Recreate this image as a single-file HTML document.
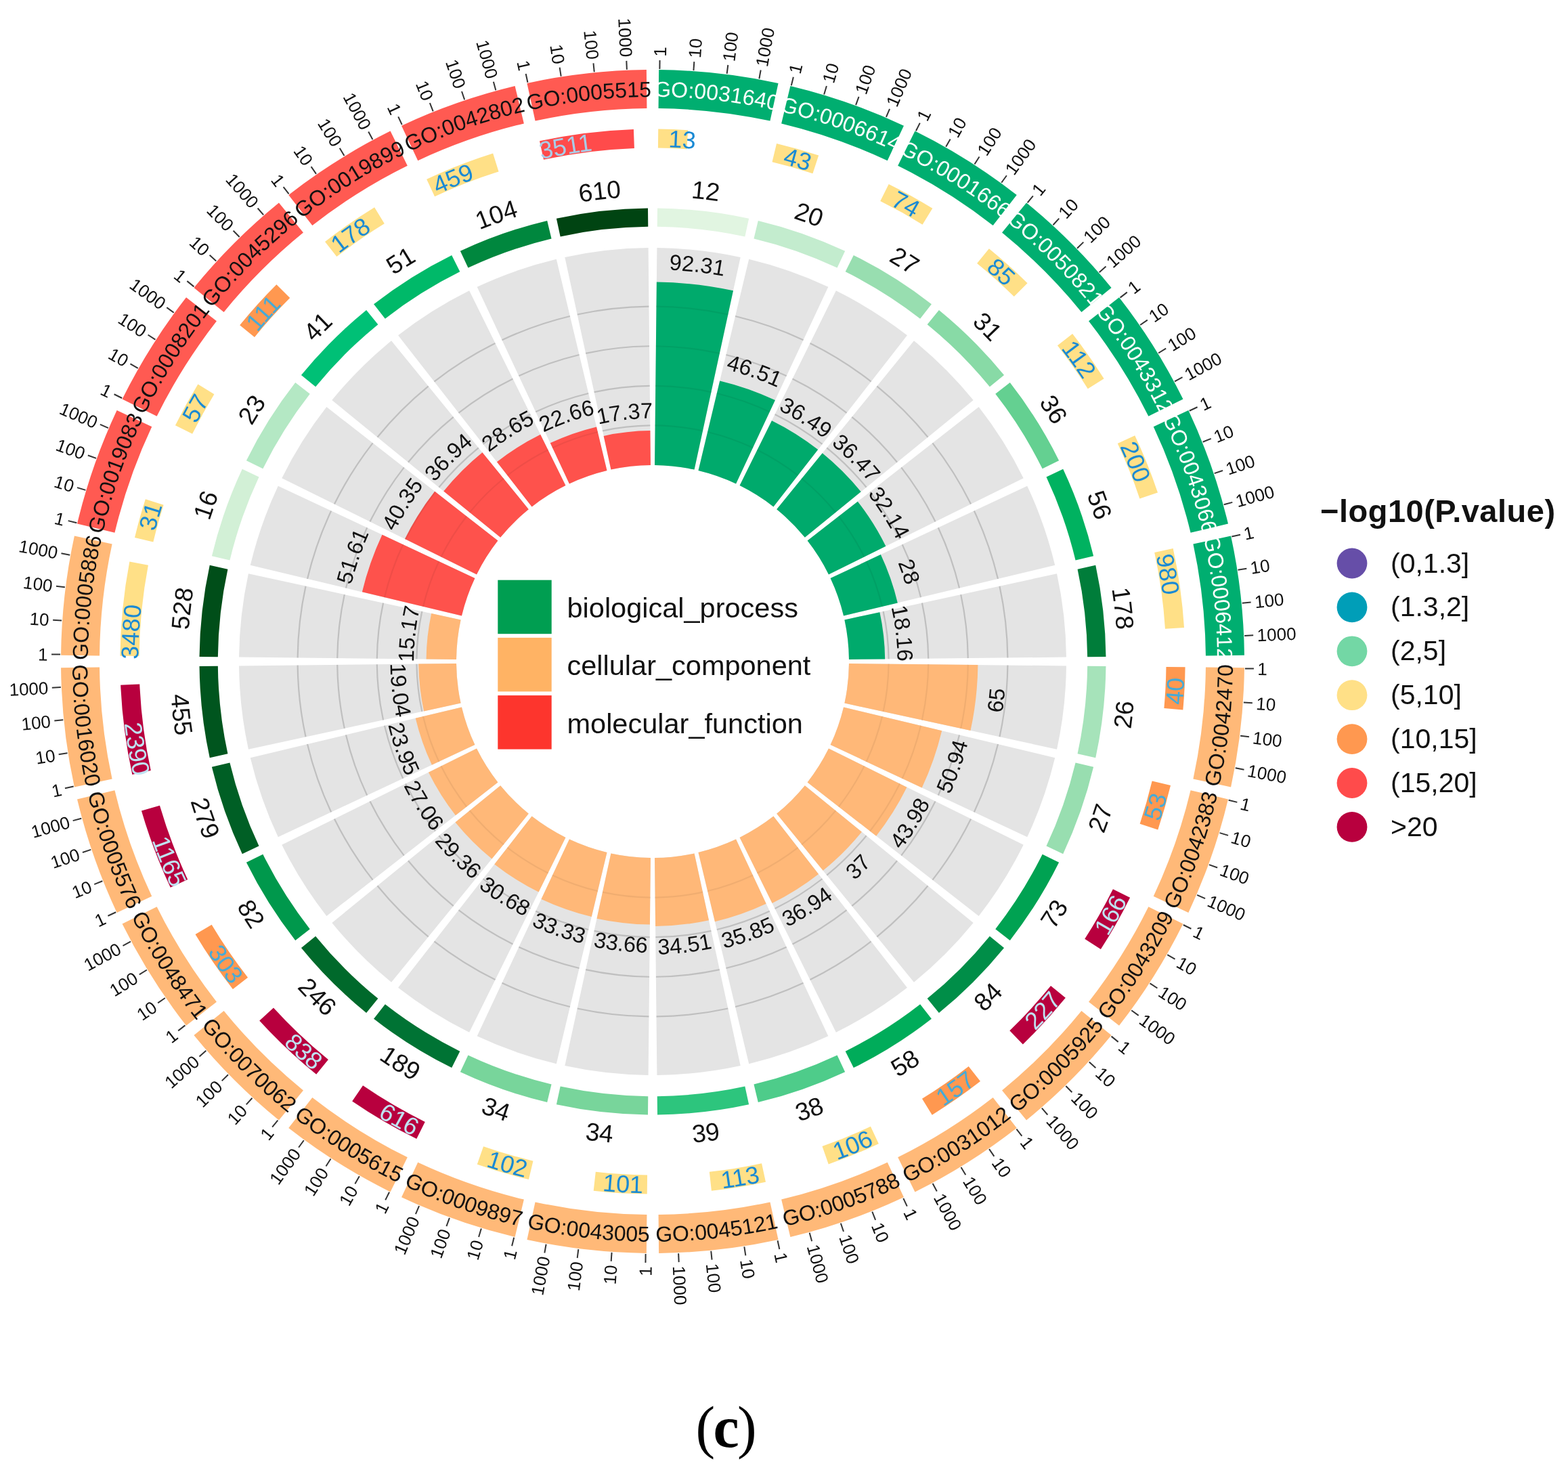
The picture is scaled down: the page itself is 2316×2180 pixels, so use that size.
<!DOCTYPE html>
<html><head><meta charset="utf-8"><title>GO circle</title>
<style>
html,body{margin:0;padding:0;background:#fff;}
body{width:2316px;height:2180px;overflow:hidden;}
svg{display:block;font-family:"Liberation Sans",Arial,sans-serif;}
.tk{stroke:#333;stroke-width:2;}
.tl{font-size:26px;fill:#111;}
.gl{fill:none;stroke:#000;stroke-opacity:0.16;stroke-width:2.2;}
.gl2{fill:none;stroke:#000;stroke-opacity:0.06;stroke-width:2.2;}
.lg{font-size:41.5px;fill:#111;}
.rt{font-size:47px;font-weight:bold;fill:#111;letter-spacing:0.5px;}
.rv{font-size:41px;fill:#111;}
.cap{font-family:"Liberation Serif",serif;font-size:86px;letter-spacing:-2.7px;fill:#000;text-anchor:middle;}
</style></head>
<body>
<svg xmlns="http://www.w3.org/2000/svg" width="2316" height="2180" viewBox="0 0 2316 2180">
<defs><path id="p1" d="M502.79 282.08A834.04 834.04 0 0 1 1568.28 402.13"/>
<path id="p2" d="M509.48 368.32A759.66 759.66 0 0 1 1484.51 423.68"/>
<path id="p3" d="M584.24 404.8A686.75 686.75 0 0 1 1461.56 503.65"/>
<path id="p4" d="M643.92 494.72A578.83 578.83 0 0 1 1383.37 578.03"/>
<path id="p5" d="M668.99 196.87A834.04 834.04 0 0 1 1681.05 551.01"/>
<path id="p6" d="M656.32 282.44A759.66 759.66 0 0 1 1594.58 553.38"/>
<path id="p7" d="M721.09 334.64A686.75 686.75 0 0 1 1554.42 626.24"/>
<path id="p8" d="M806.73 561.1A444.64 444.64 0 0 1 1346.27 749.9"/>
<path id="p9" d="M849.98 150.79A834.04 834.04 0 0 1 1757.86 721.24"/>
<path id="p10" d="M818.58 231.39A759.66 759.66 0 0 1 1673.04 704.32"/>
<path id="p11" d="M870.12 296.69A686.75 686.75 0 0 1 1617.67 766.41"/>
<path id="p12" d="M907.23 565.62A415.28 415.28 0 0 1 1359.27 849.66"/>
<path id="p13" d="M1036.69 146.13A834.04 834.04 0 0 1 1794.87 904.31"/>
<path id="p14" d="M988.15 217.72A759.66 759.66 0 0 1 1715.94 868.93"/>
<path id="p15" d="M1023.85 292.86A686.75 686.75 0 0 1 1648.14 917.15"/>
<path id="p16" d="M1000.19 563.36A415.22 415.22 0 0 1 1377.64 940.81"/>
<path id="p17" d="M1219.76 183.14A834.04 834.04 0 0 1 1790.21 1091.02"/>
<path id="p18" d="M1156.5 242.13A759.66 759.66 0 0 1 1721.13 1038.96"/>
<path id="p19" d="M1174.59 323.33A686.75 686.75 0 0 1 1644.31 1070.88"/>
<path id="p20" d="M1087.44 593.86A402.54 402.54 0 0 1 1362.76 1032.03"/>
<path id="p21" d="M1389.99 259.95A834.04 834.04 0 0 1 1744.13 1272.01"/>
<path id="p22" d="M1315.19 303.39A759.66 759.66 0 0 1 1688.36 1205.89"/>
<path id="p23" d="M1314.76 386.58A686.75 686.75 0 0 1 1606.36 1219.91"/>
<path id="p24" d="M1163.4 641.36A390.41 390.41 0 0 1 1329.17 1115.09"/>
<path id="p25" d="M1538.87 372.72A834.04 834.04 0 0 1 1658.92 1438.21"/>
<path id="p26" d="M1456.28 398.43A759.66 759.66 0 0 1 1619.27 1361.33"/>
<path id="p27" d="M1437.35 479.44A686.75 686.75 0 0 1 1536.2 1356.76"/>
<path id="p28" d="M1213.22 715.03A361.57 361.57 0 0 1 1265.26 1176.94"/>
<path id="p29" d="M1554.66 1597.88A856.96 856.96 0 0 0 1678.01 503.12"/>
<path id="p30" d="M1536.09 1515.17A785.44 785.44 0 0 0 1593.34 507.05"/>
<path id="p31" d="M1455.61 1493.76A713.25 713.25 0 0 0 1558.27 582.59"/>
<path id="p32" d="M1323.85 1355.26A522.09 522.09 0 0 0 1399 688.3"/>
<path id="p33" d="M1401.7 1713.75A856.96 856.96 0 0 0 1765.56 673.89"/>
<path id="p34" d="M1401.99 1628.98A785.44 785.44 0 0 0 1682.13 658.88"/>
<path id="p35" d="M1328.3 1590.2A713.25 713.25 0 0 0 1631.14 724.72"/>
<path id="p36" d="M1209.62 1390.43A480.89 480.89 0 0 0 1413.8 806.91"/>
<path id="p37" d="M1226.78 1792.67A856.96 856.96 0 0 0 1812.91 859.85"/>
<path id="p38" d="M1245.93 1710.09A785.44 785.44 0 0 0 1734.91 826.65"/>
<path id="p39" d="M1182.71 1655.88A713.25 713.25 0 0 0 1670.55 879.5"/>
<path id="p40" d="M1105.21 1415.31A460.5 460.5 0 0 0 1420.17 914.05"/>
<path id="p41" d="M1038.69 1830.7A856.96 856.96 0 0 0 1817.7 1051.69"/>
<path id="p42" d="M1075.74 1754.45A785.44 785.44 0 0 0 1749.04 1001.96"/>
<path id="p43" d="M1026.16 1687.53A713.25 713.25 0 0 0 1674.53 1039.16"/>
<path id="p44" d="M1002.35 1415.37A440.05 440.05 0 0 0 1402.37 1015.35"/>
<path id="p45" d="M846.85 1825.91A856.96 856.96 0 0 0 1779.67 1239.78"/>
<path id="p46" d="M899.94 1759.82A785.44 785.44 0 0 0 1723.8 1176.03"/>
<path id="p47" d="M866.5 1683.55A713.25 713.25 0 0 0 1642.88 1195.71"/>
<path id="p48" d="M903.87 1412.74A439.87 439.87 0 0 0 1382.68 1111.88"/>
<path id="p49" d="M660.89 1778.56A856.96 856.96 0 0 0 1700.75 1414.7"/>
<path id="p50" d="M727.35 1725.94A785.44 785.44 0 0 0 1660.47 1340.11"/>
<path id="p51" d="M711.72 1644.14A713.25 713.25 0 0 0 1577.2 1341.3"/>
<path id="p52" d="M809.54 1385.45A436.68 436.68 0 0 0 1339.42 1200.04"/>
<path id="p53" d="M490.12 1691.01A856.96 856.96 0 0 0 1584.88 1567.66"/>
<path id="p54" d="M566.63 1654.5A785.44 785.44 0 0 0 1562.2 1485.98"/>
<path id="p55" d="M569.59 1571.27A713.25 713.25 0 0 0 1480.76 1468.61"/>
<path id="p56" d="M724.7 1337.57A432.75 432.75 0 0 0 1277.53 1275.28"/>
<path id="p57" d="M343.12 1567.66A856.96 856.96 0 0 0 1437.88 1691.01"/>
<path id="p58" d="M425.83 1549.09A785.44 785.44 0 0 0 1433.95 1606.34"/>
<path id="p59" d="M447.24 1468.61A713.25 713.25 0 0 0 1358.41 1571.27"/>
<path id="p60" d="M652.27 1273.56A430.26 430.26 0 0 0 1201.92 1335.49"/>
<path id="p61" d="M227.25 1414.7A856.96 856.96 0 0 0 1267.11 1778.56"/>
<path id="p62" d="M312.02 1414.99A785.44 785.44 0 0 0 1282.12 1695.13"/>
<path id="p63" d="M350.8 1341.3A713.25 713.25 0 0 0 1216.28 1644.14"/>
<path id="p64" d="M594.93 1196.26A429.29 429.29 0 0 0 1115.84 1378.54"/>
<path id="p65" d="M148.33 1239.78A856.96 856.96 0 0 0 1081.15 1825.91"/>
<path id="p66" d="M230.91 1258.93A785.44 785.44 0 0 0 1114.35 1747.91"/>
<path id="p67" d="M285.12 1195.71A713.25 713.25 0 0 0 1061.5 1683.55"/>
<path id="p68" d="M562.78 1106.26A421.53 421.53 0 0 0 1021.62 1394.57"/>
<path id="p69" d="M110.3 1051.69A856.96 856.96 0 0 0 889.31 1830.7"/>
<path id="p70" d="M186.55 1088.74A785.44 785.44 0 0 0 939.04 1762.04"/>
<path id="p71" d="M253.47 1039.16A713.25 713.25 0 0 0 901.84 1687.53"/>
<path id="p72" d="M547.93 1013.4A417.66 417.66 0 0 0 927.6 1393.07"/>
<path id="p73" d="M115.09 859.85A856.96 856.96 0 0 0 701.22 1792.67"/>
<path id="p74" d="M181.18 912.94A785.44 785.44 0 0 0 764.97 1736.8"/>
<path id="p75" d="M257.45 879.5A713.25 713.25 0 0 0 745.29 1655.88"/>
<path id="p76" d="M556.94 920.83A410.92 410.92 0 0 0 837.99 1368.12"/>
<path id="p77" d="M162.44 673.89A856.96 856.96 0 0 0 526.3 1713.75"/>
<path id="p78" d="M215.06 740.35A785.44 785.44 0 0 0 600.89 1673.47"/>
<path id="p79" d="M296.86 724.72A713.25 713.25 0 0 0 599.7 1590.2"/>
<path id="p80" d="M588.17 834.88A401.81 401.81 0 0 0 758.77 1322.44"/>
<path id="p81" d="M249.99 503.12A856.96 856.96 0 0 0 373.34 1597.88"/>
<path id="p82" d="M286.5 579.63A785.44 785.44 0 0 0 455.02 1575.2"/>
<path id="p83" d="M369.73 582.59A713.25 713.25 0 0 0 472.39 1493.76"/>
<path id="p84" d="M641.2 762.76A387.42 387.42 0 0 0 696.97 1257.69"/>
<path id="p85" d="M269.08 1438.21A834.04 834.04 0 0 1 389.13 372.72"/>
<path id="p86" d="M355.32 1431.52A759.66 759.66 0 0 1 410.68 456.49"/>
<path id="p87" d="M391.8 1356.76A686.75 686.75 0 0 1 490.65 479.44"/>
<path id="p88" d="M670.04 1172.1A352.81 352.81 0 0 1 720.82 721.38"/>
<path id="p89" d="M183.87 1272.01A834.04 834.04 0 0 1 538.01 259.95"/>
<path id="p90" d="M269.44 1284.68A759.66 759.66 0 0 1 540.38 346.42"/>
<path id="p91" d="M321.64 1219.91A686.75 686.75 0 0 1 613.24 386.58"/>
<path id="p92" d="M534.13 1139.56A459.58 459.58 0 0 1 729.26 581.89"/>
<path id="p93" d="M137.79 1091.02A834.04 834.04 0 0 1 708.24 183.14"/>
<path id="p94" d="M218.39 1122.42A759.66 759.66 0 0 1 691.32 267.96"/>
<path id="p95" d="M283.69 1070.88A686.75 686.75 0 0 1 753.41 323.33"/>
<path id="p96" d="M541.41 1035.32A426.59 426.59 0 0 1 833.19 570.96"/>
<path id="p97" d="M133.13 904.31A834.04 834.04 0 0 1 891.31 146.13"/>
<path id="p98" d="M204.72 952.85A759.66 759.66 0 0 1 855.93 225.06"/>
<path id="p99" d="M279.86 917.15A686.75 686.75 0 0 1 904.15 292.86"/>
<path id="p100" d="M548.99 940.69A416.6 416.6 0 0 1 927.69 561.99"/>
<path id="p101" d="M170.14 721.24A834.04 834.04 0 0 1 1078.02 150.79"/>
<path id="p102" d="M229.13 784.5A759.66 759.66 0 0 1 1025.96 219.87"/>
<path id="p103" d="M310.33 766.41A686.75 686.75 0 0 1 1057.88 296.69"/>
<path id="p104" d="M590.59 856.7A392.31 392.31 0 0 1 1017.63 588.37"/>
<path id="p105" d="M246.95 551.01A834.04 834.04 0 0 1 1259.01 196.87"/>
<path id="p106" d="M290.39 625.81A759.66 759.66 0 0 1 1192.89 252.64"/>
<path id="p107" d="M373.58 626.24A686.75 686.75 0 0 1 1206.91 334.64"/>
<path id="p108" d="M641.81 785.59A374.76 374.76 0 0 1 1096.56 626.47"/>
<path id="p109" d="M359.72 402.13A834.04 834.04 0 0 1 1425.21 282.08"/>
<path id="p110" d="M385.43 484.72A759.66 759.66 0 0 1 1348.33 321.73"/>
<path id="p111" d="M466.44 503.65A686.75 686.75 0 0 1 1343.76 404.8"/>
<path id="p112" d="M703.71 729.38A359.26 359.26 0 0 1 1162.66 677.67"/></defs>
<rect width="100%" height="100%" fill="#fff"/>
<path d="M973.15 103.05A874 874 0 0 1 1149.55 122.92L1137.45 178.62A817 817 0 0 0 972.56 160.04Z" fill="#00ae70"/>
<line x1="974.38" y1="102.06" x2="974.54" y2="89.06" class="tk"/>
<text transform="translate(974.6 83.56) rotate(-89.32)" y="9.31" text-anchor="start" class="tl">1</text>
<line x1="1024.43" y1="104.09" x2="1025.33" y2="91.12" class="tk"/>
<text transform="translate(1025.71 85.63) rotate(-86.04)" y="9.31" text-anchor="start" class="tl">10</text>
<line x1="1073.67" y1="108.9" x2="1075.3" y2="96" class="tk"/>
<text transform="translate(1075.99 90.55) rotate(-82.8)" y="9.31" text-anchor="start" class="tl">100</text>
<line x1="1121.35" y1="116.26" x2="1123.69" y2="103.48" class="tk"/>
<text transform="translate(1124.68 98.07) rotate(-79.64)" y="9.31" text-anchor="start" class="tl">1000</text>
<text font-size="32" fill="#ffffff"><textPath href="#p1" startOffset="50%" text-anchor="middle">GO:0031640</textPath></text>
<path d="M972.24 190.44A786.6 786.6 0 0 1 1016.24 192.14L1014.38 220.17A758.5 758.5 0 0 0 971.94 218.54Z" fill="#ffe087"/>
<text font-size="36" fill="#1a8ad4"><textPath href="#p2" startOffset="50%" text-anchor="middle">13</textPath></text>
<path d="M971.01 307.54A669.5 669.5 0 0 1 1106.13 322.76L1100.34 349.44A642.2 642.2 0 0 0 970.72 334.84Z" fill="#e1f5e1"/>
<text font-size="37" fill="#111"><textPath href="#p3" startOffset="50%" text-anchor="middle">12</textPath></text>
<path d="M970.4 366.03A611 611 0 0 1 1093.71 379.93L1025.57 693.61A290 290 0 0 0 967.04 687.02Z" fill="#e4e4e4"/>
<path d="M967.65 628.42A348.6 348.6 0 0 1 1038.01 636.35" class="gl"/>
<path d="M968.26 569.82A407.2 407.2 0 0 1 1050.45 579.08" class="gl"/>
<path d="M968.88 511.23A465.8 465.8 0 0 1 1062.89 521.82" class="gl"/>
<path d="M969.49 452.63A524.4 524.4 0 0 1 1075.33 464.55" class="gl"/>
<path d="M969.87 416.56A560.47 560.47 0 0 1 1082.99 429.31L1025.57 693.61A290 290 0 0 0 967.04 687.02Z" fill="#00aa6c"/>
<path d="M967.65 628.42A348.6 348.6 0 0 1 1038.01 636.35" class="gl2"/>
<path d="M968.26 569.82A407.2 407.2 0 0 1 1050.45 579.08" class="gl2"/>
<path d="M968.88 511.23A465.8 465.8 0 0 1 1062.89 521.82" class="gl2"/>
<path d="M969.49 452.63A524.4 524.4 0 0 1 1075.33 464.55" class="gl2"/>
<text font-size="32.5" fill="#111"><textPath href="#p4" startOffset="50%" text-anchor="middle">92.31</textPath></text>
<path d="M1167.4 127A874 874 0 0 1 1334.95 185.63L1310.76 237.24A817 817 0 0 0 1154.13 182.43Z" fill="#00ae70"/>
<line x1="1168.82" y1="126.31" x2="1171.86" y2="113.67" class="tk"/>
<text transform="translate(1173.15 108.32) rotate(-76.46)" y="9.31" text-anchor="start" class="tl">1</text>
<line x1="1217.15" y1="139.42" x2="1220.91" y2="126.98" class="tk"/>
<text transform="translate(1222.51 121.71) rotate(-73.18)" y="9.31" text-anchor="start" class="tl">10</text>
<line x1="1264.09" y1="155.07" x2="1268.55" y2="142.86" class="tk"/>
<text transform="translate(1270.43 137.69) rotate(-69.94)" y="9.31" text-anchor="start" class="tl">100</text>
<line x1="1308.94" y1="172.86" x2="1314.06" y2="160.91" class="tk"/>
<text transform="translate(1316.23 155.86) rotate(-66.78)" y="9.31" text-anchor="start" class="tl">1000</text>
<text font-size="32" fill="#ffffff"><textPath href="#p5" startOffset="50%" text-anchor="middle">GO:0006614</textPath></text>
<path d="M1147.06 212A786.6 786.6 0 0 1 1209.18 229.59L1200.42 256.29A758.5 758.5 0 0 0 1140.52 239.33Z" fill="#ffe087"/>
<text font-size="36" fill="#1a8ad4"><textPath href="#p6" startOffset="50%" text-anchor="middle">43</textPath></text>
<path d="M1119.8 325.88A669.5 669.5 0 0 1 1248.15 370.79L1236.57 395.51A642.2 642.2 0 0 0 1113.45 352.43Z" fill="#c3ecce"/>
<text font-size="37" fill="#111"><textPath href="#p7" startOffset="50%" text-anchor="middle">20</textPath></text>
<path d="M1106.19 382.78A611 611 0 0 1 1223.32 423.76L1087.08 714.42A290 290 0 0 0 1031.49 694.96Z" fill="#e4e4e4"/>
<path d="M1045.13 637.97A348.6 348.6 0 0 1 1111.95 661.36" class="gl"/>
<path d="M1058.76 580.98A407.2 407.2 0 0 1 1136.83 608.3" class="gl"/>
<path d="M1072.4 523.99A465.8 465.8 0 0 1 1161.7 555.24" class="gl"/>
<path d="M1086.04 467A524.4 524.4 0 0 1 1186.57 502.18" class="gl"/>
<path d="M1063.2 562.43A426.27 426.27 0 0 1 1144.92 591.02L1087.08 714.42A290 290 0 0 0 1031.49 694.96Z" fill="#00aa6c"/>
<path d="M1045.13 637.97A348.6 348.6 0 0 1 1111.95 661.36" class="gl2"/>
<path d="M1058.76 580.98A407.2 407.2 0 0 1 1136.83 608.3" class="gl2"/>
<text font-size="32.5" fill="#111"><textPath href="#p8" startOffset="50%" text-anchor="middle">46.51</textPath></text>
<path d="M1351.44 193.57A874 874 0 0 1 1501.74 288.01L1466.67 332.94A817 817 0 0 0 1326.17 244.66Z" fill="#00ae70"/>
<line x1="1352.98" y1="193.21" x2="1358.76" y2="181.57" class="tk"/>
<text transform="translate(1361.2 176.64) rotate(-63.61)" y="9.31" text-anchor="start" class="tl">1</text>
<line x1="1397.19" y1="216.75" x2="1403.62" y2="205.46" class="tk"/>
<text transform="translate(1406.34 200.68) rotate(-60.33)" y="9.31" text-anchor="start" class="tl">10</text>
<line x1="1439.46" y1="242.45" x2="1446.52" y2="231.54" class="tk"/>
<text transform="translate(1449.51 226.92) rotate(-57.09)" y="9.31" text-anchor="start" class="tl">100</text>
<line x1="1479.23" y1="269.78" x2="1486.88" y2="259.27" class="tk"/>
<text transform="translate(1490.12 254.82) rotate(-53.93)" y="9.31" text-anchor="start" class="tl">1000</text>
<text font-size="32" fill="#ffffff"><textPath href="#p9" startOffset="50%" text-anchor="middle">GO:0001666</textPath></text>
<path d="M1312.7 271.91A786.6 786.6 0 0 1 1377.31 307.74L1362.54 331.64A758.5 758.5 0 0 0 1300.24 297.1Z" fill="#ffe087"/>
<text font-size="36" fill="#1a8ad4"><textPath href="#p10" startOffset="50%" text-anchor="middle">74</textPath></text>
<path d="M1260.79 376.88A669.5 669.5 0 0 1 1375.92 449.22L1359.13 470.74A642.2 642.2 0 0 0 1248.68 401.35Z" fill="#98deb0"/>
<text font-size="37" fill="#111"><textPath href="#p11" startOffset="50%" text-anchor="middle">27</textPath></text>
<path d="M1234.85 429.31A611 611 0 0 1 1339.93 495.34L1142.43 748.39A290 290 0 0 0 1092.56 717.05Z" fill="#e4e4e4"/>
<path d="M1118.53 664.52A348.6 348.6 0 0 1 1178.48 702.19" class="gl"/>
<path d="M1144.51 612A407.2 407.2 0 0 1 1214.54 656" class="gl"/>
<path d="M1170.49 559.47A465.8 465.8 0 0 1 1250.59 609.8" class="gl"/>
<path d="M1196.46 506.94A524.4 524.4 0 0 1 1286.65 563.61" class="gl"/>
<path d="M1139.95 621.21A396.92 396.92 0 0 1 1208.21 664.1L1142.43 748.39A290 290 0 0 0 1092.56 717.05Z" fill="#00aa6c"/>
<path d="M1118.53 664.52A348.6 348.6 0 0 1 1178.48 702.19" class="gl2"/>
<text font-size="32.5" fill="#111"><textPath href="#p12" startOffset="50%" text-anchor="middle">36.49</textPath></text>
<path d="M1516.06 299.42A874 874 0 0 1 1641.58 424.94L1597.39 460.95A817 817 0 0 0 1480.05 343.61Z" fill="#00ae70"/>
<line x1="1517.63" y1="299.42" x2="1525.86" y2="289.35" class="tk"/>
<text transform="translate(1529.34 285.09) rotate(-50.75)" y="9.31" text-anchor="start" class="tl">1</text>
<line x1="1555.5" y1="332.21" x2="1564.28" y2="322.63" class="tk"/>
<text transform="translate(1568 318.57) rotate(-47.47)" y="9.31" text-anchor="start" class="tl">10</text>
<line x1="1590.99" y1="366.67" x2="1600.31" y2="357.6" class="tk"/>
<text transform="translate(1604.25 353.76) rotate(-44.23)" y="9.31" text-anchor="start" class="tl">100</text>
<line x1="1623.68" y1="402.16" x2="1633.48" y2="393.62" class="tk"/>
<text transform="translate(1637.63 390) rotate(-41.07)" y="9.31" text-anchor="start" class="tl">1000</text>
<text font-size="32" fill="#ffffff"><textPath href="#p13" startOffset="50%" text-anchor="middle">GO:0050821</textPath></text>
<path d="M1460.85 367.18A786.6 786.6 0 0 1 1517.56 418.16L1497.79 438.12A758.5 758.5 0 0 0 1443.1 388.97Z" fill="#ffe087"/>
<text font-size="36" fill="#1a8ad4"><textPath href="#p14" startOffset="50%" text-anchor="middle">85</textPath></text>
<path d="M1386.88 457.96A669.5 669.5 0 0 1 1483.04 554.12L1461.87 571.36A642.2 642.2 0 0 0 1369.64 479.13Z" fill="#88daa6"/>
<text font-size="37" fill="#111"><textPath href="#p15" startOffset="50%" text-anchor="middle">31</textPath></text>
<path d="M1349.93 503.32A611 611 0 0 1 1437.68 591.07L1188.83 793.82A290 290 0 0 0 1147.18 752.17Z" fill="#e4e4e4"/>
<path d="M1184.19 706.74A348.6 348.6 0 0 1 1234.26 756.81" class="gl"/>
<path d="M1221.2 661.31A407.2 407.2 0 0 1 1279.69 719.8" class="gl"/>
<path d="M1258.22 615.88A465.8 465.8 0 0 1 1325.12 682.78" class="gl"/>
<path d="M1295.23 570.45A524.4 524.4 0 0 1 1370.55 645.77" class="gl"/>
<path d="M1214.67 669.33A396.86 396.86 0 0 1 1271.67 726.33L1188.83 793.82A290 290 0 0 0 1147.18 752.17Z" fill="#00aa6c"/>
<path d="M1184.19 706.74A348.6 348.6 0 0 1 1234.26 756.81" class="gl2"/>
<text font-size="32.5" fill="#111"><textPath href="#p16" startOffset="50%" text-anchor="middle">36.47</textPath></text>
<path d="M1652.99 439.26A874 874 0 0 1 1747.43 589.56L1696.34 614.83A817 817 0 0 0 1608.06 474.33Z" fill="#00ae70"/>
<line x1="1654.53" y1="439.6" x2="1664.79" y2="431.62" class="tk"/>
<text transform="translate(1669.13 428.24) rotate(-37.89)" y="9.31" text-anchor="start" class="tl">1</text>
<line x1="1684.15" y1="479.99" x2="1694.84" y2="472.61" class="tk"/>
<text transform="translate(1699.37 469.48) rotate(-34.61)" y="9.31" text-anchor="start" class="tl">10</text>
<line x1="1711.08" y1="521.49" x2="1722.18" y2="514.72" class="tk"/>
<text transform="translate(1726.88 511.86) rotate(-31.37)" y="9.31" text-anchor="start" class="tl">100</text>
<line x1="1735.06" y1="563.36" x2="1746.51" y2="557.22" class="tk"/>
<text transform="translate(1751.36 554.62) rotate(-28.21)" y="9.31" text-anchor="start" class="tl">1000</text>
<text font-size="32" fill="#ffffff"><textPath href="#p17" startOffset="50%" text-anchor="middle">GO:0043312</textPath></text>
<path d="M1584.09 493.03A786.6 786.6 0 0 1 1630.57 559.35L1606.76 574.27A758.5 758.5 0 0 0 1561.94 510.32Z" fill="#ffe087"/>
<text font-size="36" fill="#1a8ad4"><textPath href="#p18" startOffset="50%" text-anchor="middle">112</textPath></text>
<path d="M1491.78 565.08A669.5 669.5 0 0 1 1564.12 680.21L1539.65 692.32A642.2 642.2 0 0 0 1470.26 581.87Z" fill="#64d091"/>
<text font-size="37" fill="#111"><textPath href="#p19" startOffset="50%" text-anchor="middle">36</textPath></text>
<path d="M1445.66 601.07A611 611 0 0 1 1511.69 706.15L1223.95 848.44A290 290 0 0 0 1192.61 798.57Z" fill="#e4e4e4"/>
<path d="M1238.81 762.52A348.6 348.6 0 0 1 1276.48 822.47" class="gl"/>
<path d="M1285 726.46A407.2 407.2 0 0 1 1329 796.49" class="gl"/>
<path d="M1331.2 690.41A465.8 465.8 0 0 1 1381.53 770.51" class="gl"/>
<path d="M1377.39 654.35A524.4 524.4 0 0 1 1434.06 744.54" class="gl"/>
<path d="M1266.85 740.63A384.17 384.17 0 0 1 1308.36 806.7L1223.95 848.44A290 290 0 0 0 1192.61 798.57Z" fill="#00aa6c"/>
<path d="M1238.81 762.52A348.6 348.6 0 0 1 1276.48 822.47" class="gl2"/>
<text font-size="32.5" fill="#111"><textPath href="#p20" startOffset="50%" text-anchor="middle">32.14</textPath></text>
<path d="M1755.37 606.05A874 874 0 0 1 1814 773.6L1758.57 786.87A817 817 0 0 0 1703.76 630.24Z" fill="#00ae70"/>
<line x1="1756.8" y1="606.73" x2="1768.58" y2="601.23" class="tk"/>
<text transform="translate(1773.56 598.91) rotate(-25.03)" y="9.31" text-anchor="start" class="tl">1</text>
<line x1="1776.68" y1="652.7" x2="1788.76" y2="647.88" class="tk"/>
<text transform="translate(1793.87 645.84) rotate(-21.75)" y="9.31" text-anchor="start" class="tl">10</text>
<line x1="1793.71" y1="699.15" x2="1806.04" y2="695.02" class="tk"/>
<text transform="translate(1811.26 693.28) rotate(-18.51)" y="9.31" text-anchor="start" class="tl">100</text>
<line x1="1807.77" y1="745.31" x2="1820.3" y2="741.87" class="tk"/>
<text transform="translate(1825.61 740.41) rotate(-15.35)" y="9.31" text-anchor="start" class="tl">1000</text>
<text font-size="32" fill="#ffffff"><textPath href="#p21" startOffset="50%" text-anchor="middle">GO:0043066</textPath></text>
<path d="M1676.24 643.15A786.6 786.6 0 0 1 1710.01 727.57L1683.36 736.48A758.5 758.5 0 0 0 1650.79 655.07Z" fill="#ffe087"/>
<text font-size="36" fill="#1a8ad4"><textPath href="#p22" startOffset="50%" text-anchor="middle">200</textPath></text>
<path d="M1570.21 692.85A669.5 669.5 0 0 1 1615.12 821.2L1588.57 827.55A642.2 642.2 0 0 0 1545.49 704.43Z" fill="#00b260"/>
<text font-size="37" fill="#111"><textPath href="#p23" startOffset="50%" text-anchor="middle">56</textPath></text>
<path d="M1517.24 717.68A611 611 0 0 1 1558.22 834.81L1246.04 909.51A290 290 0 0 0 1226.58 853.92Z" fill="#e4e4e4"/>
<path d="M1279.64 829.05A348.6 348.6 0 0 1 1303.03 895.87" class="gl"/>
<path d="M1332.7 804.17A407.2 407.2 0 0 1 1360.02 882.24" class="gl"/>
<path d="M1385.76 779.3A465.8 465.8 0 0 1 1417.01 868.6" class="gl"/>
<path d="M1438.82 754.43A524.4 524.4 0 0 1 1474 854.96" class="gl"/>
<path d="M1300.87 819.1A372.04 372.04 0 0 1 1325.83 890.42L1246.04 909.51A290 290 0 0 0 1226.58 853.92Z" fill="#00aa6c"/>
<path d="M1279.64 829.05A348.6 348.6 0 0 1 1303.03 895.87" class="gl2"/>
<text font-size="32.5" fill="#111"><textPath href="#p24" startOffset="50%" text-anchor="middle">28</textPath></text>
<path d="M1818.08 791.45A874 874 0 0 1 1837.95 967.85L1780.96 968.44A817 817 0 0 0 1762.38 803.55Z" fill="#00ae70"/>
<line x1="1819.31" y1="792.43" x2="1832.02" y2="789.69" class="tk"/>
<text transform="translate(1837.4 788.53) rotate(-12.18)" y="9.31" text-anchor="start" class="tl">1</text>
<line x1="1828.47" y1="841.67" x2="1841.32" y2="839.66" class="tk"/>
<text transform="translate(1846.75 838.81) rotate(-8.9)" y="9.31" text-anchor="start" class="tl">10</text>
<line x1="1834.74" y1="890.75" x2="1847.68" y2="889.47" class="tk"/>
<text transform="translate(1853.15 888.92) rotate(-5.66)" y="9.31" text-anchor="start" class="tl">100</text>
<line x1="1838.17" y1="938.88" x2="1851.16" y2="938.31" class="tk"/>
<text transform="translate(1856.65 938.07) rotate(-2.5)" y="9.31" text-anchor="start" class="tl">1000</text>
<text font-size="32" fill="#ffffff"><textPath href="#p25" startOffset="50%" text-anchor="middle">GO:0006412</textPath></text>
<path d="M1732.67 810.01A786.6 786.6 0 0 1 1749.01 927.03L1720.97 928.81A758.5 758.5 0 0 0 1705.21 815.97Z" fill="#ffe087"/>
<text font-size="36" fill="#1a8ad4"><textPath href="#p26" startOffset="50%" text-anchor="middle">980</textPath></text>
<path d="M1618.24 834.87A669.5 669.5 0 0 1 1633.46 969.99L1606.16 970.28A642.2 642.2 0 0 0 1591.56 840.66Z" fill="#007d3a"/>
<text font-size="37" fill="#111"><textPath href="#p27" startOffset="50%" text-anchor="middle">178</textPath></text>
<path d="M1561.07 847.29A611 611 0 0 1 1574.97 970.6L1253.98 973.96A290 290 0 0 0 1247.39 915.43Z" fill="#e4e4e4"/>
<path d="M1304.65 902.99A348.6 348.6 0 0 1 1312.58 973.35" class="gl"/>
<path d="M1361.92 890.55A407.2 407.2 0 0 1 1371.18 972.74" class="gl"/>
<path d="M1419.18 878.11A465.8 465.8 0 0 1 1429.77 972.12" class="gl"/>
<path d="M1476.45 865.67A524.4 524.4 0 0 1 1488.37 971.51" class="gl"/>
<path d="M1299.39 904.14A343.21 343.21 0 0 1 1307.19 973.41L1253.98 973.96A290 290 0 0 0 1247.39 915.43Z" fill="#00aa6c"/>
<text font-size="32.5" fill="#111"><textPath href="#p28" startOffset="50%" text-anchor="middle">18.16</textPath></text>
<path d="M1837.95 986.15A874 874 0 0 1 1818.08 1162.55L1762.38 1150.45A817 817 0 0 0 1780.96 985.56Z" fill="#ffb978"/>
<line x1="1838.94" y1="987.38" x2="1851.94" y2="987.54" class="tk"/>
<text transform="translate(1857.44 987.6) rotate(0.68)" y="9.31" text-anchor="start" class="tl">1</text>
<line x1="1836.91" y1="1037.43" x2="1849.88" y2="1038.33" class="tk"/>
<text transform="translate(1855.37 1038.71) rotate(3.96)" y="9.31" text-anchor="start" class="tl">10</text>
<line x1="1832.1" y1="1086.67" x2="1845" y2="1088.3" class="tk"/>
<text transform="translate(1850.45 1088.99) rotate(7.2)" y="9.31" text-anchor="start" class="tl">100</text>
<line x1="1824.74" y1="1134.35" x2="1837.52" y2="1136.69" class="tk"/>
<text transform="translate(1842.93 1137.68) rotate(10.36)" y="9.31" text-anchor="start" class="tl">1000</text>
<text font-size="32" fill="#111111"><textPath href="#p29" startOffset="50%" text-anchor="middle">GO:0042470</textPath></text>
<path d="M1750.56 985.24A786.6 786.6 0 0 1 1747.35 1048.48L1719.36 1045.93A758.5 758.5 0 0 0 1722.46 984.94Z" fill="#ff9850"/>
<text font-size="36" fill="#46aad7"><textPath href="#p30" startOffset="50%" text-anchor="middle">40</textPath></text>
<path d="M1633.46 984.01A669.5 669.5 0 0 1 1618.24 1119.13L1591.56 1113.34A642.2 642.2 0 0 0 1606.16 983.72Z" fill="#a6e3ba"/>
<text font-size="37" fill="#111"><textPath href="#p31" startOffset="50%" text-anchor="middle">26</textPath></text>
<path d="M1574.97 983.4A611 611 0 0 1 1561.07 1106.71L1247.39 1038.57A290 290 0 0 0 1253.98 980.04Z" fill="#e4e4e4"/>
<path d="M1312.58 980.65A348.6 348.6 0 0 1 1304.65 1051.01" class="gl"/>
<path d="M1371.18 981.26A407.2 407.2 0 0 1 1361.92 1063.45" class="gl"/>
<path d="M1429.77 981.88A465.8 465.8 0 0 1 1419.18 1075.89" class="gl"/>
<path d="M1488.37 982.49A524.4 524.4 0 0 1 1476.45 1088.33" class="gl"/>
<path d="M1444.42 982.03A480.45 480.45 0 0 1 1433.5 1079L1247.39 1038.57A290 290 0 0 0 1253.98 980.04Z" fill="#ffb878"/>
<path d="M1312.58 980.65A348.6 348.6 0 0 1 1304.65 1051.01" class="gl2"/>
<path d="M1371.18 981.26A407.2 407.2 0 0 1 1361.92 1063.45" class="gl2"/>
<path d="M1429.77 981.88A465.8 465.8 0 0 1 1419.18 1075.89" class="gl2"/>
<text font-size="32.5" fill="#111"><textPath href="#p32" startOffset="50%" text-anchor="middle">65</textPath></text>
<path d="M1814 1180.4A874 874 0 0 1 1755.37 1347.95L1703.76 1323.76A817 817 0 0 0 1758.57 1167.13Z" fill="#ffb978"/>
<line x1="1814.69" y1="1181.82" x2="1827.33" y2="1184.86" class="tk"/>
<text transform="translate(1832.68 1186.15) rotate(13.54)" y="9.31" text-anchor="start" class="tl">1</text>
<line x1="1801.58" y1="1230.15" x2="1814.02" y2="1233.91" class="tk"/>
<text transform="translate(1819.29 1235.51) rotate(16.82)" y="9.31" text-anchor="start" class="tl">10</text>
<line x1="1785.93" y1="1277.09" x2="1798.14" y2="1281.55" class="tk"/>
<text transform="translate(1803.31 1283.43) rotate(20.06)" y="9.31" text-anchor="start" class="tl">100</text>
<line x1="1768.14" y1="1321.94" x2="1780.09" y2="1327.06" class="tk"/>
<text transform="translate(1785.14 1329.23) rotate(23.22)" y="9.31" text-anchor="start" class="tl">1000</text>
<text font-size="32" fill="#111111"><textPath href="#p33" startOffset="50%" text-anchor="middle">GO:0042383</textPath></text>
<path d="M1729 1160.06A786.6 786.6 0 0 1 1710.29 1225.59L1683.63 1216.71A758.5 758.5 0 0 0 1701.67 1153.52Z" fill="#ff9850"/>
<text font-size="36" fill="#46aad7"><textPath href="#p34" startOffset="50%" text-anchor="middle">53</textPath></text>
<path d="M1615.12 1132.8A669.5 669.5 0 0 1 1570.21 1261.15L1545.49 1249.57A642.2 642.2 0 0 0 1588.57 1126.45Z" fill="#98deb0"/>
<text font-size="37" fill="#111"><textPath href="#p35" startOffset="50%" text-anchor="middle">27</textPath></text>
<path d="M1558.22 1119.19A611 611 0 0 1 1517.24 1236.32L1226.58 1100.08A290 290 0 0 0 1246.04 1044.49Z" fill="#e4e4e4"/>
<path d="M1303.03 1058.13A348.6 348.6 0 0 1 1279.64 1124.95" class="gl"/>
<path d="M1360.02 1071.76A407.2 407.2 0 0 1 1332.7 1149.83" class="gl"/>
<path d="M1417.01 1085.4A465.8 465.8 0 0 1 1385.76 1174.7" class="gl"/>
<path d="M1474 1099.04A524.4 524.4 0 0 1 1438.82 1199.57" class="gl"/>
<path d="M1391.19 1079.22A439.25 439.25 0 0 1 1361.73 1163.43L1226.58 1100.08A290 290 0 0 0 1246.04 1044.49Z" fill="#ffb878"/>
<path d="M1303.03 1058.13A348.6 348.6 0 0 1 1279.64 1124.95" class="gl2"/>
<path d="M1360.02 1071.76A407.2 407.2 0 0 1 1332.7 1149.83" class="gl2"/>
<text font-size="32.5" fill="#111"><textPath href="#p36" startOffset="50%" text-anchor="middle">50.94</textPath></text>
<path d="M1747.43 1364.44A874 874 0 0 1 1652.99 1514.74L1608.06 1479.67A817 817 0 0 0 1696.34 1339.17Z" fill="#ffb978"/>
<line x1="1747.79" y1="1365.98" x2="1759.43" y2="1371.76" class="tk"/>
<text transform="translate(1764.36 1374.2) rotate(26.39)" y="9.31" text-anchor="start" class="tl">1</text>
<line x1="1724.25" y1="1410.19" x2="1735.54" y2="1416.62" class="tk"/>
<text transform="translate(1740.32 1419.34) rotate(29.67)" y="9.31" text-anchor="start" class="tl">10</text>
<line x1="1698.55" y1="1452.46" x2="1709.46" y2="1459.52" class="tk"/>
<text transform="translate(1714.08 1462.51) rotate(32.91)" y="9.31" text-anchor="start" class="tl">100</text>
<line x1="1671.22" y1="1492.23" x2="1681.73" y2="1499.88" class="tk"/>
<text transform="translate(1686.18 1503.12) rotate(36.07)" y="9.31" text-anchor="start" class="tl">1000</text>
<text font-size="32" fill="#111111"><textPath href="#p37" startOffset="50%" text-anchor="middle">GO:0043209</textPath></text>
<path d="M1669.09 1325.7A786.6 786.6 0 0 1 1625.87 1402.05L1602.23 1386.86A758.5 758.5 0 0 0 1643.9 1313.24Z" fill="#b8003e"/>
<text font-size="36" fill="#bfe3f2"><textPath href="#p38" startOffset="50%" text-anchor="middle">166</textPath></text>
<path d="M1564.12 1273.79A669.5 669.5 0 0 1 1491.78 1388.92L1470.26 1372.13A642.2 642.2 0 0 0 1539.65 1261.68Z" fill="#00a252"/>
<text font-size="37" fill="#111"><textPath href="#p39" startOffset="50%" text-anchor="middle">73</textPath></text>
<path d="M1511.69 1247.85A611 611 0 0 1 1445.66 1352.93L1192.61 1155.43A290 290 0 0 0 1223.95 1105.56Z" fill="#e4e4e4"/>
<path d="M1276.48 1131.53A348.6 348.6 0 0 1 1238.81 1191.48" class="gl"/>
<path d="M1329 1157.51A407.2 407.2 0 0 1 1285 1227.54" class="gl"/>
<path d="M1381.53 1183.49A465.8 465.8 0 0 1 1331.2 1263.59" class="gl"/>
<path d="M1434.06 1209.46A524.4 524.4 0 0 1 1377.39 1299.65" class="gl"/>
<path d="M1339.46 1162.68A418.86 418.86 0 0 1 1294.2 1234.71L1192.61 1155.43A290 290 0 0 0 1223.95 1105.56Z" fill="#ffb878"/>
<path d="M1276.48 1131.53A348.6 348.6 0 0 1 1238.81 1191.48" class="gl2"/>
<path d="M1329 1157.51A407.2 407.2 0 0 1 1285 1227.54" class="gl2"/>
<text font-size="32.5" fill="#111"><textPath href="#p40" startOffset="50%" text-anchor="middle">43.98</textPath></text>
<path d="M1641.58 1529.06A874 874 0 0 1 1516.06 1654.58L1480.05 1610.39A817 817 0 0 0 1597.39 1493.05Z" fill="#ffb978"/>
<line x1="1641.58" y1="1530.63" x2="1651.65" y2="1538.86" class="tk"/>
<text transform="translate(1655.91 1542.34) rotate(39.25)" y="9.31" text-anchor="start" class="tl">1</text>
<line x1="1608.79" y1="1568.5" x2="1618.37" y2="1577.28" class="tk"/>
<text transform="translate(1622.43 1581) rotate(42.53)" y="9.31" text-anchor="start" class="tl">10</text>
<line x1="1574.33" y1="1603.99" x2="1583.4" y2="1613.31" class="tk"/>
<text transform="translate(1587.24 1617.25) rotate(45.77)" y="9.31" text-anchor="start" class="tl">100</text>
<line x1="1538.84" y1="1636.68" x2="1547.38" y2="1646.48" class="tk"/>
<text transform="translate(1551 1650.63) rotate(48.93)" y="9.31" text-anchor="start" class="tl">1000</text>
<text font-size="32" fill="#111111"><textPath href="#p41" startOffset="50%" text-anchor="middle">GO:0005925</textPath></text>
<path d="M1573.82 1473.85A786.6 786.6 0 0 1 1510.84 1542.42L1491.31 1522.22A758.5 758.5 0 0 0 1552.03 1456.1Z" fill="#b8003e"/>
<text font-size="36" fill="#bfe3f2"><textPath href="#p42" startOffset="50%" text-anchor="middle">227</textPath></text>
<path d="M1483.04 1399.88A669.5 669.5 0 0 1 1386.88 1496.04L1369.64 1474.87A642.2 642.2 0 0 0 1461.87 1382.64Z" fill="#008e48"/>
<text font-size="37" fill="#111"><textPath href="#p43" startOffset="50%" text-anchor="middle">84</textPath></text>
<path d="M1437.68 1362.93A611 611 0 0 1 1349.93 1450.68L1147.18 1201.83A290 290 0 0 0 1188.83 1160.18Z" fill="#e4e4e4"/>
<path d="M1234.26 1197.19A348.6 348.6 0 0 1 1184.19 1247.26" class="gl"/>
<path d="M1279.69 1234.2A407.2 407.2 0 0 1 1221.2 1292.69" class="gl"/>
<path d="M1325.12 1271.22A465.8 465.8 0 0 1 1258.22 1338.12" class="gl"/>
<path d="M1370.55 1308.23A524.4 524.4 0 0 1 1295.23 1383.55" class="gl"/>
<path d="M1272.87 1228.65A398.41 398.41 0 0 1 1215.65 1285.87L1147.18 1201.83A290 290 0 0 0 1188.83 1160.18Z" fill="#ffb878"/>
<path d="M1234.26 1197.19A348.6 348.6 0 0 1 1184.19 1247.26" class="gl2"/>
<text font-size="32.5" fill="#111"><textPath href="#p44" startOffset="50%" text-anchor="middle">37</textPath></text>
<path d="M1501.74 1665.99A874 874 0 0 1 1351.44 1760.43L1326.17 1709.34A817 817 0 0 0 1466.67 1621.06Z" fill="#ffb978"/>
<line x1="1501.4" y1="1667.53" x2="1509.38" y2="1677.79" class="tk"/>
<text transform="translate(1512.76 1682.13) rotate(52.11)" y="9.31" text-anchor="start" class="tl">1</text>
<line x1="1461.01" y1="1697.15" x2="1468.39" y2="1707.84" class="tk"/>
<text transform="translate(1471.52 1712.37) rotate(55.39)" y="9.31" text-anchor="start" class="tl">10</text>
<line x1="1419.51" y1="1724.08" x2="1426.28" y2="1735.18" class="tk"/>
<text transform="translate(1429.14 1739.88) rotate(58.63)" y="9.31" text-anchor="start" class="tl">100</text>
<line x1="1377.64" y1="1748.06" x2="1383.78" y2="1759.51" class="tk"/>
<text transform="translate(1386.38 1764.36) rotate(61.79)" y="9.31" text-anchor="start" class="tl">1000</text>
<text font-size="32" fill="#111111"><textPath href="#p45" startOffset="50%" text-anchor="middle">GO:0031012</textPath></text>
<path d="M1447.97 1597.09A786.6 786.6 0 0 1 1376.72 1646.63L1361.98 1622.71A758.5 758.5 0 0 0 1430.68 1574.94Z" fill="#ff9850"/>
<text font-size="36" fill="#46aad7"><textPath href="#p46" startOffset="50%" text-anchor="middle">157</textPath></text>
<path d="M1375.92 1504.78A669.5 669.5 0 0 1 1260.79 1577.12L1248.68 1552.65A642.2 642.2 0 0 0 1359.13 1483.26Z" fill="#00ac5a"/>
<text font-size="37" fill="#111"><textPath href="#p47" startOffset="50%" text-anchor="middle">58</textPath></text>
<path d="M1339.93 1458.66A611 611 0 0 1 1234.85 1524.69L1092.56 1236.95A290 290 0 0 0 1142.43 1205.61Z" fill="#e4e4e4"/>
<path d="M1178.48 1251.81A348.6 348.6 0 0 1 1118.53 1289.48" class="gl"/>
<path d="M1214.54 1298A407.2 407.2 0 0 1 1144.51 1342" class="gl"/>
<path d="M1250.59 1344.2A465.8 465.8 0 0 1 1170.49 1394.53" class="gl"/>
<path d="M1286.65 1390.39A524.4 524.4 0 0 1 1196.46 1447.06" class="gl"/>
<path d="M1209.02 1290.94A398.23 398.23 0 0 1 1140.54 1333.97L1092.56 1236.95A290 290 0 0 0 1142.43 1205.61Z" fill="#ffb878"/>
<path d="M1178.48 1251.81A348.6 348.6 0 0 1 1118.53 1289.48" class="gl2"/>
<text font-size="32.5" fill="#111"><textPath href="#p48" startOffset="50%" text-anchor="middle">36.94</textPath></text>
<path d="M1334.95 1768.37A874 874 0 0 1 1167.4 1827L1154.13 1771.57A817 817 0 0 0 1310.76 1716.76Z" fill="#ffb978"/>
<line x1="1334.27" y1="1769.8" x2="1339.77" y2="1781.58" class="tk"/>
<text transform="translate(1342.09 1786.56) rotate(64.97)" y="9.31" text-anchor="start" class="tl">1</text>
<line x1="1288.3" y1="1789.68" x2="1293.12" y2="1801.76" class="tk"/>
<text transform="translate(1295.16 1806.87) rotate(68.25)" y="9.31" text-anchor="start" class="tl">10</text>
<line x1="1241.85" y1="1806.71" x2="1245.98" y2="1819.04" class="tk"/>
<text transform="translate(1247.72 1824.26) rotate(71.49)" y="9.31" text-anchor="start" class="tl">100</text>
<line x1="1195.69" y1="1820.77" x2="1199.13" y2="1833.3" class="tk"/>
<text transform="translate(1200.59 1838.61) rotate(74.65)" y="9.31" text-anchor="start" class="tl">1000</text>
<text font-size="32" fill="#111111"><textPath href="#p49" startOffset="50%" text-anchor="middle">GO:0005788</textPath></text>
<path d="M1297.85 1689.24A786.6 786.6 0 0 1 1223.74 1719.48L1214.46 1692.95A758.5 758.5 0 0 0 1285.93 1663.79Z" fill="#ffe087"/>
<text font-size="36" fill="#1a8ad4"><textPath href="#p50" startOffset="50%" text-anchor="middle">106</textPath></text>
<path d="M1248.15 1583.21A669.5 669.5 0 0 1 1119.8 1628.12L1113.45 1601.57A642.2 642.2 0 0 0 1236.57 1558.49Z" fill="#4ecc8a"/>
<text font-size="37" fill="#111"><textPath href="#p51" startOffset="50%" text-anchor="middle">38</textPath></text>
<path d="M1223.32 1530.24A611 611 0 0 1 1106.19 1571.22L1031.49 1259.04A290 290 0 0 0 1087.08 1239.58Z" fill="#e4e4e4"/>
<path d="M1111.95 1292.64A348.6 348.6 0 0 1 1045.13 1316.03" class="gl"/>
<path d="M1136.83 1345.7A407.2 407.2 0 0 1 1058.76 1373.02" class="gl"/>
<path d="M1161.7 1398.76A465.8 465.8 0 0 1 1072.4 1430.01" class="gl"/>
<path d="M1186.57 1451.82A524.4 524.4 0 0 1 1086.04 1487" class="gl"/>
<path d="M1131.67 1334.69A395.04 395.04 0 0 1 1055.93 1361.19L1031.49 1259.04A290 290 0 0 0 1087.08 1239.58Z" fill="#ffb878"/>
<path d="M1111.95 1292.64A348.6 348.6 0 0 1 1045.13 1316.03" class="gl2"/>
<text font-size="32.5" fill="#111"><textPath href="#p52" startOffset="50%" text-anchor="middle">35.85</textPath></text>
<path d="M1149.55 1831.08A874 874 0 0 1 973.15 1850.95L972.56 1793.96A817 817 0 0 0 1137.45 1775.38Z" fill="#ffb978"/>
<line x1="1148.57" y1="1832.31" x2="1151.31" y2="1845.02" class="tk"/>
<text transform="translate(1152.47 1850.4) rotate(77.82)" y="9.31" text-anchor="start" class="tl">1</text>
<line x1="1099.33" y1="1841.47" x2="1101.34" y2="1854.32" class="tk"/>
<text transform="translate(1102.19 1859.75) rotate(81.1)" y="9.31" text-anchor="start" class="tl">10</text>
<line x1="1050.25" y1="1847.74" x2="1051.53" y2="1860.68" class="tk"/>
<text transform="translate(1052.08 1866.15) rotate(84.34)" y="9.31" text-anchor="start" class="tl">100</text>
<line x1="1002.12" y1="1851.17" x2="1002.69" y2="1864.16" class="tk"/>
<text transform="translate(1002.93 1869.65) rotate(87.5)" y="9.31" text-anchor="start" class="tl">1000</text>
<text font-size="32" fill="#111111"><textPath href="#p53" startOffset="50%" text-anchor="middle">GO:0045121</textPath></text>
<path d="M1130.99 1745.67A786.6 786.6 0 0 1 1050.92 1758.78L1047.82 1730.85A758.5 758.5 0 0 0 1125.03 1718.21Z" fill="#ffe087"/>
<text font-size="36" fill="#1a8ad4"><textPath href="#p54" startOffset="50%" text-anchor="middle">113</textPath></text>
<path d="M1106.13 1631.24A669.5 669.5 0 0 1 971.01 1646.46L970.72 1619.16A642.2 642.2 0 0 0 1100.34 1604.56Z" fill="#2dc57d"/>
<text font-size="37" fill="#111"><textPath href="#p55" startOffset="50%" text-anchor="middle">39</textPath></text>
<path d="M1093.71 1574.07A611 611 0 0 1 970.4 1587.97L967.04 1266.98A290 290 0 0 0 1025.57 1260.39Z" fill="#e4e4e4"/>
<path d="M1038.01 1317.65A348.6 348.6 0 0 1 967.65 1325.58" class="gl"/>
<path d="M1050.45 1374.92A407.2 407.2 0 0 1 968.26 1384.18" class="gl"/>
<path d="M1062.89 1432.18A465.8 465.8 0 0 1 968.88 1442.77" class="gl"/>
<path d="M1075.33 1489.45A524.4 524.4 0 0 1 969.49 1501.37" class="gl"/>
<path d="M1047.03 1359.2A391.11 391.11 0 0 1 968.1 1368.09L967.04 1266.98A290 290 0 0 0 1025.57 1260.39Z" fill="#ffb878"/>
<path d="M1038.01 1317.65A348.6 348.6 0 0 1 967.65 1325.58" class="gl2"/>
<text font-size="32.5" fill="#111"><textPath href="#p56" startOffset="50%" text-anchor="middle">34.51</textPath></text>
<path d="M954.85 1850.95A874 874 0 0 1 778.45 1831.08L790.55 1775.38A817 817 0 0 0 955.44 1793.96Z" fill="#ffb978"/>
<line x1="953.62" y1="1851.94" x2="953.46" y2="1864.94" class="tk"/>
<text transform="translate(953.4 1870.44) rotate(-89.32)" y="9.31" text-anchor="end" class="tl">1</text>
<line x1="903.57" y1="1849.91" x2="902.67" y2="1862.88" class="tk"/>
<text transform="translate(902.29 1868.37) rotate(-86.04)" y="9.31" text-anchor="end" class="tl">10</text>
<line x1="854.33" y1="1845.1" x2="852.7" y2="1858" class="tk"/>
<text transform="translate(852.01 1863.45) rotate(-82.8)" y="9.31" text-anchor="end" class="tl">100</text>
<line x1="806.65" y1="1837.74" x2="804.31" y2="1850.52" class="tk"/>
<text transform="translate(803.32 1855.93) rotate(-79.64)" y="9.31" text-anchor="end" class="tl">1000</text>
<text font-size="32" fill="#111111"><textPath href="#p57" startOffset="50%" text-anchor="middle">GO:0043005</textPath></text>
<path d="M955.76 1763.56A786.6 786.6 0 0 1 876.69 1758.74L879.81 1730.81A758.5 758.5 0 0 0 956.06 1735.46Z" fill="#ffe087"/>
<text font-size="36" fill="#1a8ad4"><textPath href="#p58" startOffset="50%" text-anchor="middle">101</textPath></text>
<path d="M956.99 1646.46A669.5 669.5 0 0 1 821.87 1631.24L827.66 1604.56A642.2 642.2 0 0 0 957.28 1619.16Z" fill="#78d59b"/>
<text font-size="37" fill="#111"><textPath href="#p59" startOffset="50%" text-anchor="middle">34</textPath></text>
<path d="M957.6 1587.97A611 611 0 0 1 834.29 1574.07L902.43 1260.39A290 290 0 0 0 960.96 1266.98Z" fill="#e4e4e4"/>
<path d="M960.35 1325.58A348.6 348.6 0 0 1 889.99 1317.65" class="gl"/>
<path d="M959.74 1384.18A407.2 407.2 0 0 1 877.55 1374.92" class="gl"/>
<path d="M959.12 1442.77A465.8 465.8 0 0 1 865.11 1432.18" class="gl"/>
<path d="M958.51 1501.37A524.4 524.4 0 0 1 852.67 1489.45" class="gl"/>
<path d="M959.93 1365.6A388.62 388.62 0 0 1 881.5 1356.76L902.43 1260.39A290 290 0 0 0 960.96 1266.98Z" fill="#ffb878"/>
<path d="M960.35 1325.58A348.6 348.6 0 0 1 889.99 1317.65" class="gl2"/>
<text font-size="32.5" fill="#111"><textPath href="#p60" startOffset="50%" text-anchor="middle">33.66</textPath></text>
<path d="M760.6 1827A874 874 0 0 1 593.05 1768.37L617.24 1716.76A817 817 0 0 0 773.87 1771.57Z" fill="#ffb978"/>
<line x1="759.18" y1="1827.69" x2="756.14" y2="1840.33" class="tk"/>
<text transform="translate(754.85 1845.68) rotate(-76.46)" y="9.31" text-anchor="end" class="tl">1</text>
<line x1="710.85" y1="1814.58" x2="707.09" y2="1827.02" class="tk"/>
<text transform="translate(705.49 1832.29) rotate(-73.18)" y="9.31" text-anchor="end" class="tl">10</text>
<line x1="663.91" y1="1798.93" x2="659.45" y2="1811.14" class="tk"/>
<text transform="translate(657.57 1816.31) rotate(-69.94)" y="9.31" text-anchor="end" class="tl">100</text>
<line x1="619.06" y1="1781.14" x2="613.94" y2="1793.09" class="tk"/>
<text transform="translate(611.77 1798.14) rotate(-66.78)" y="9.31" text-anchor="end" class="tl">1000</text>
<text font-size="32" fill="#111111"><textPath href="#p61" startOffset="50%" text-anchor="middle">GO:0009897</textPath></text>
<path d="M780.94 1742A786.6 786.6 0 0 1 704.77 1719.66L714.03 1693.13A758.5 758.5 0 0 0 787.48 1714.67Z" fill="#ffe087"/>
<text font-size="36" fill="#1a8ad4"><textPath href="#p62" startOffset="50%" text-anchor="middle">102</textPath></text>
<path d="M808.2 1628.12A669.5 669.5 0 0 1 679.85 1583.21L691.43 1558.49A642.2 642.2 0 0 0 814.55 1601.57Z" fill="#78d59b"/>
<text font-size="37" fill="#111"><textPath href="#p63" startOffset="50%" text-anchor="middle">34</textPath></text>
<path d="M821.81 1571.22A611 611 0 0 1 704.68 1530.24L840.92 1239.58A290 290 0 0 0 896.51 1259.04Z" fill="#e4e4e4"/>
<path d="M882.87 1316.03A348.6 348.6 0 0 1 816.05 1292.64" class="gl"/>
<path d="M869.24 1373.02A407.2 407.2 0 0 1 791.17 1345.7" class="gl"/>
<path d="M855.6 1430.01A465.8 465.8 0 0 1 766.3 1398.76" class="gl"/>
<path d="M841.96 1487A524.4 524.4 0 0 1 741.43 1451.82" class="gl"/>
<path d="M873.79 1354.01A387.66 387.66 0 0 1 799.47 1328.01L840.92 1239.58A290 290 0 0 0 896.51 1259.04Z" fill="#ffb878"/>
<path d="M882.87 1316.03A348.6 348.6 0 0 1 816.05 1292.64" class="gl2"/>
<text font-size="32.5" fill="#111"><textPath href="#p64" startOffset="50%" text-anchor="middle">33.33</textPath></text>
<path d="M576.56 1760.43A874 874 0 0 1 426.26 1665.99L461.33 1621.06A817 817 0 0 0 601.83 1709.34Z" fill="#ffb978"/>
<line x1="575.02" y1="1760.79" x2="569.24" y2="1772.43" class="tk"/>
<text transform="translate(566.8 1777.36) rotate(-63.61)" y="9.31" text-anchor="end" class="tl">1</text>
<line x1="530.81" y1="1737.25" x2="524.38" y2="1748.54" class="tk"/>
<text transform="translate(521.66 1753.32) rotate(-60.33)" y="9.31" text-anchor="end" class="tl">10</text>
<line x1="488.54" y1="1711.55" x2="481.48" y2="1722.46" class="tk"/>
<text transform="translate(478.49 1727.08) rotate(-57.09)" y="9.31" text-anchor="end" class="tl">100</text>
<line x1="448.77" y1="1684.22" x2="441.12" y2="1694.73" class="tk"/>
<text transform="translate(437.88 1699.18) rotate(-53.93)" y="9.31" text-anchor="end" class="tl">1000</text>
<text font-size="32" fill="#111111"><textPath href="#p65" startOffset="50%" text-anchor="middle">GO:0005615</textPath></text>
<path d="M615.3 1682.09A786.6 786.6 0 0 1 520.18 1626.44L536.04 1603.24A758.5 758.5 0 0 0 627.76 1656.9Z" fill="#b8003e"/>
<text font-size="36" fill="#bfe3f2"><textPath href="#p66" startOffset="50%" text-anchor="middle">616</textPath></text>
<path d="M667.21 1577.12A669.5 669.5 0 0 1 552.08 1504.78L568.87 1483.26A642.2 642.2 0 0 0 679.32 1552.65Z" fill="#007334"/>
<text font-size="37" fill="#111"><textPath href="#p67" startOffset="50%" text-anchor="middle">189</textPath></text>
<path d="M693.15 1524.69A611 611 0 0 1 588.07 1458.66L785.57 1205.61A290 290 0 0 0 835.44 1236.95Z" fill="#e4e4e4"/>
<path d="M809.47 1289.48A348.6 348.6 0 0 1 749.52 1251.81" class="gl"/>
<path d="M783.49 1342A407.2 407.2 0 0 1 713.46 1298" class="gl"/>
<path d="M757.51 1394.53A465.8 465.8 0 0 1 677.41 1344.2" class="gl"/>
<path d="M731.54 1447.06A524.4 524.4 0 0 1 641.35 1390.39" class="gl"/>
<path d="M795.6 1317.53A379.89 379.89 0 0 1 730.26 1276.48L785.57 1205.61A290 290 0 0 0 835.44 1236.95Z" fill="#ffb878"/>
<path d="M809.47 1289.48A348.6 348.6 0 0 1 749.52 1251.81" class="gl2"/>
<text font-size="32.5" fill="#111"><textPath href="#p68" startOffset="50%" text-anchor="middle">30.68</textPath></text>
<path d="M411.94 1654.58A874 874 0 0 1 286.42 1529.06L330.61 1493.05A817 817 0 0 0 447.95 1610.39Z" fill="#ffb978"/>
<line x1="410.37" y1="1654.58" x2="402.14" y2="1664.65" class="tk"/>
<text transform="translate(398.66 1668.91) rotate(-50.75)" y="9.31" text-anchor="end" class="tl">1</text>
<line x1="372.5" y1="1621.79" x2="363.72" y2="1631.37" class="tk"/>
<text transform="translate(360 1635.43) rotate(-47.47)" y="9.31" text-anchor="end" class="tl">10</text>
<line x1="337.01" y1="1587.33" x2="327.69" y2="1596.4" class="tk"/>
<text transform="translate(323.75 1600.24) rotate(-44.23)" y="9.31" text-anchor="end" class="tl">100</text>
<line x1="304.32" y1="1551.84" x2="294.52" y2="1560.38" class="tk"/>
<text transform="translate(290.37 1564) rotate(-41.07)" y="9.31" text-anchor="end" class="tl">1000</text>
<text font-size="32" fill="#111111"><textPath href="#p69" startOffset="50%" text-anchor="middle">GO:0070062</textPath></text>
<path d="M467.15 1586.82A786.6 786.6 0 0 1 383.22 1507.5L403.97 1488.55A758.5 758.5 0 0 0 484.9 1565.03Z" fill="#b8003e"/>
<text font-size="36" fill="#bfe3f2"><textPath href="#p70" startOffset="50%" text-anchor="middle">838</textPath></text>
<path d="M541.12 1496.04A669.5 669.5 0 0 1 444.96 1399.88L466.13 1382.64A642.2 642.2 0 0 0 558.36 1474.87Z" fill="#00692b"/>
<text font-size="37" fill="#111"><textPath href="#p71" startOffset="50%" text-anchor="middle">246</textPath></text>
<path d="M578.07 1450.68A611 611 0 0 1 490.32 1362.93L739.17 1160.18A290 290 0 0 0 780.82 1201.83Z" fill="#e4e4e4"/>
<path d="M743.81 1247.26A348.6 348.6 0 0 1 693.74 1197.19" class="gl"/>
<path d="M706.8 1292.69A407.2 407.2 0 0 1 648.31 1234.2" class="gl"/>
<path d="M669.78 1338.12A465.8 465.8 0 0 1 602.88 1271.22" class="gl"/>
<path d="M632.77 1383.55A524.4 524.4 0 0 1 557.45 1308.23" class="gl"/>
<path d="M726.49 1268.52A376.02 376.02 0 0 1 672.48 1214.51L739.17 1160.18A290 290 0 0 0 780.82 1201.83Z" fill="#ffb878"/>
<path d="M743.81 1247.26A348.6 348.6 0 0 1 693.74 1197.19" class="gl2"/>
<text font-size="32.5" fill="#111"><textPath href="#p72" startOffset="50%" text-anchor="middle">29.36</textPath></text>
<path d="M275.01 1514.74A874 874 0 0 1 180.57 1364.44L231.66 1339.17A817 817 0 0 0 319.94 1479.67Z" fill="#ffb978"/>
<line x1="273.47" y1="1514.4" x2="263.21" y2="1522.38" class="tk"/>
<text transform="translate(258.87 1525.76) rotate(-37.89)" y="9.31" text-anchor="end" class="tl">1</text>
<line x1="243.85" y1="1474.01" x2="233.16" y2="1481.39" class="tk"/>
<text transform="translate(228.63 1484.52) rotate(-34.61)" y="9.31" text-anchor="end" class="tl">10</text>
<line x1="216.92" y1="1432.51" x2="205.82" y2="1439.28" class="tk"/>
<text transform="translate(201.12 1442.14) rotate(-31.37)" y="9.31" text-anchor="end" class="tl">100</text>
<line x1="192.94" y1="1390.64" x2="181.49" y2="1396.78" class="tk"/>
<text transform="translate(176.64 1399.38) rotate(-28.21)" y="9.31" text-anchor="end" class="tl">1000</text>
<text font-size="32" fill="#111111"><textPath href="#p73" startOffset="50%" text-anchor="middle">GO:0048471</textPath></text>
<path d="M343.91 1460.97A786.6 786.6 0 0 1 288.52 1380.07L312.65 1365.67A758.5 758.5 0 0 0 366.06 1443.68Z" fill="#ff9850"/>
<text font-size="36" fill="#46aad7"><textPath href="#p74" startOffset="50%" text-anchor="middle">303</textPath></text>
<path d="M436.22 1388.92A669.5 669.5 0 0 1 363.88 1273.79L388.35 1261.68A642.2 642.2 0 0 0 457.74 1372.13Z" fill="#00984c"/>
<text font-size="37" fill="#111"><textPath href="#p75" startOffset="50%" text-anchor="middle">82</textPath></text>
<path d="M482.34 1352.93A611 611 0 0 1 416.31 1247.85L704.05 1105.56A290 290 0 0 0 735.39 1155.43Z" fill="#e4e4e4"/>
<path d="M689.19 1191.48A348.6 348.6 0 0 1 651.52 1131.53" class="gl"/>
<path d="M643 1227.54A407.2 407.2 0 0 1 599 1157.51" class="gl"/>
<path d="M596.8 1263.59A465.8 465.8 0 0 1 546.47 1183.49" class="gl"/>
<path d="M550.61 1299.65A524.4 524.4 0 0 1 493.94 1209.46" class="gl"/>
<path d="M672.89 1204.21A369.29 369.29 0 0 1 632.98 1140.7L704.05 1105.56A290 290 0 0 0 735.39 1155.43Z" fill="#ffb878"/>
<path d="M689.19 1191.48A348.6 348.6 0 0 1 651.52 1131.53" class="gl2"/>
<text font-size="32.5" fill="#111"><textPath href="#p76" startOffset="50%" text-anchor="middle">27.06</textPath></text>
<path d="M172.63 1347.95A874 874 0 0 1 114 1180.4L169.43 1167.13A817 817 0 0 0 224.24 1323.76Z" fill="#ffb978"/>
<line x1="171.2" y1="1347.27" x2="159.42" y2="1352.77" class="tk"/>
<text transform="translate(154.44 1355.09) rotate(-25.03)" y="9.31" text-anchor="end" class="tl">1</text>
<line x1="151.32" y1="1301.3" x2="139.24" y2="1306.12" class="tk"/>
<text transform="translate(134.13 1308.16) rotate(-21.75)" y="9.31" text-anchor="end" class="tl">10</text>
<line x1="134.29" y1="1254.85" x2="121.96" y2="1258.98" class="tk"/>
<text transform="translate(116.74 1260.72) rotate(-18.51)" y="9.31" text-anchor="end" class="tl">100</text>
<line x1="120.23" y1="1208.69" x2="107.7" y2="1212.13" class="tk"/>
<text transform="translate(102.39 1213.59) rotate(-15.35)" y="9.31" text-anchor="end" class="tl">1000</text>
<text font-size="32" fill="#111111"><textPath href="#p77" startOffset="50%" text-anchor="middle">GO:0005576</textPath></text>
<path d="M251.76 1310.85A786.6 786.6 0 0 1 208.95 1197.55L235.93 1189.67A758.5 758.5 0 0 0 277.21 1298.93Z" fill="#b8003e"/>
<text font-size="36" fill="#bfe3f2"><textPath href="#p78" startOffset="50%" text-anchor="middle">1165</textPath></text>
<path d="M357.79 1261.15A669.5 669.5 0 0 1 312.88 1132.8L339.43 1126.45A642.2 642.2 0 0 0 382.51 1249.57Z" fill="#005f25"/>
<text font-size="37" fill="#111"><textPath href="#p79" startOffset="50%" text-anchor="middle">279</textPath></text>
<path d="M410.76 1236.32A611 611 0 0 1 369.78 1119.19L681.96 1044.49A290 290 0 0 0 701.42 1100.08Z" fill="#e4e4e4"/>
<path d="M648.36 1124.95A348.6 348.6 0 0 1 624.97 1058.13" class="gl"/>
<path d="M595.3 1149.83A407.2 407.2 0 0 1 567.98 1071.76" class="gl"/>
<path d="M542.24 1174.7A465.8 465.8 0 0 1 510.99 1085.4" class="gl"/>
<path d="M489.18 1199.57A524.4 524.4 0 0 1 454 1099.04" class="gl"/>
<path d="M637.88 1129.87A360.17 360.17 0 0 1 613.72 1060.82L681.96 1044.49A290 290 0 0 0 701.42 1100.08Z" fill="#ffb878"/>
<path d="M648.36 1124.95A348.6 348.6 0 0 1 624.97 1058.13" class="gl2"/>
<text font-size="32.5" fill="#111"><textPath href="#p80" startOffset="50%" text-anchor="middle">23.95</textPath></text>
<path d="M109.92 1162.55A874 874 0 0 1 90.05 986.15L147.04 985.56A817 817 0 0 0 165.62 1150.45Z" fill="#ffb978"/>
<line x1="108.69" y1="1161.57" x2="95.98" y2="1164.31" class="tk"/>
<text transform="translate(90.6 1165.47) rotate(-12.18)" y="9.31" text-anchor="end" class="tl">1</text>
<line x1="99.53" y1="1112.33" x2="86.68" y2="1114.34" class="tk"/>
<text transform="translate(81.25 1115.19) rotate(-8.9)" y="9.31" text-anchor="end" class="tl">10</text>
<line x1="93.26" y1="1063.25" x2="80.32" y2="1064.53" class="tk"/>
<text transform="translate(74.85 1065.08) rotate(-5.66)" y="9.31" text-anchor="end" class="tl">100</text>
<line x1="89.83" y1="1015.12" x2="76.84" y2="1015.69" class="tk"/>
<text transform="translate(71.35 1015.93) rotate(-2.5)" y="9.31" text-anchor="end" class="tl">1000</text>
<text font-size="32" fill="#111111"><textPath href="#p81" startOffset="50%" text-anchor="middle">GO:0016020</textPath></text>
<path d="M195.33 1143.99A786.6 786.6 0 0 1 178.17 1011.69L206.24 1010.45A758.5 758.5 0 0 0 222.79 1138.03Z" fill="#b8003e"/>
<text font-size="36" fill="#bfe3f2"><textPath href="#p82" startOffset="50%" text-anchor="middle">2390</textPath></text>
<path d="M309.76 1119.13A669.5 669.5 0 0 1 294.54 984.01L321.84 983.72A642.2 642.2 0 0 0 336.44 1113.34Z" fill="#00551e"/>
<text font-size="37" fill="#111"><textPath href="#p83" startOffset="50%" text-anchor="middle">455</textPath></text>
<path d="M366.93 1106.71A611 611 0 0 1 353.03 983.4L674.02 980.04A290 290 0 0 0 680.61 1038.57Z" fill="#e4e4e4"/>
<path d="M623.35 1051.01A348.6 348.6 0 0 1 615.42 980.65" class="gl"/>
<path d="M566.08 1063.45A407.2 407.2 0 0 1 556.82 981.26" class="gl"/>
<path d="M508.82 1075.89A465.8 465.8 0 0 1 498.23 981.88" class="gl"/>
<path d="M451.55 1088.33A524.4 524.4 0 0 1 439.63 982.49" class="gl"/>
<path d="M626.1 1050.41A345.79 345.79 0 0 1 618.23 980.62L674.02 980.04A290 290 0 0 0 680.61 1038.57Z" fill="#ffb878"/>
<text font-size="32.5" fill="#111"><textPath href="#p84" startOffset="50%" text-anchor="middle">19.04</textPath></text>
<path d="M90.05 967.85A874 874 0 0 1 109.92 791.45L165.62 803.55A817 817 0 0 0 147.04 968.44Z" fill="#ffb978"/>
<line x1="89.06" y1="966.62" x2="76.06" y2="966.46" class="tk"/>
<text transform="translate(70.56 966.4) rotate(0.68)" y="9.31" text-anchor="end" class="tl">1</text>
<line x1="91.09" y1="916.57" x2="78.12" y2="915.67" class="tk"/>
<text transform="translate(72.63 915.29) rotate(3.96)" y="9.31" text-anchor="end" class="tl">10</text>
<line x1="95.9" y1="867.33" x2="83" y2="865.7" class="tk"/>
<text transform="translate(77.55 865.01) rotate(7.2)" y="9.31" text-anchor="end" class="tl">100</text>
<line x1="103.26" y1="819.65" x2="90.48" y2="817.31" class="tk"/>
<text transform="translate(85.07 816.32) rotate(10.36)" y="9.31" text-anchor="end" class="tl">1000</text>
<text font-size="32" fill="#111111"><textPath href="#p85" startOffset="50%" text-anchor="middle">GO:0005886</textPath></text>
<path d="M177.44 968.76A786.6 786.6 0 0 1 191.33 829.61L218.93 834.87A758.5 758.5 0 0 0 205.54 969.06Z" fill="#ffe087"/>
<text font-size="36" fill="#1a8ad4"><textPath href="#p86" startOffset="50%" text-anchor="middle">3480</textPath></text>
<path d="M294.54 969.99A669.5 669.5 0 0 1 309.76 834.87L336.44 840.66A642.2 642.2 0 0 0 321.84 970.28Z" fill="#004e19"/>
<text font-size="37" fill="#111"><textPath href="#p87" startOffset="50%" text-anchor="middle">528</textPath></text>
<path d="M353.03 970.6A611 611 0 0 1 366.93 847.29L680.61 915.43A290 290 0 0 0 674.02 973.96Z" fill="#e4e4e4"/>
<path d="M615.42 973.35A348.6 348.6 0 0 1 623.35 902.99" class="gl"/>
<path d="M556.82 972.74A407.2 407.2 0 0 1 566.08 890.55" class="gl"/>
<path d="M498.23 972.12A465.8 465.8 0 0 1 508.82 878.11" class="gl"/>
<path d="M439.63 971.51A524.4 524.4 0 0 1 451.55 865.67" class="gl"/>
<path d="M629.57 973.5A334.45 334.45 0 0 1 637.18 906L680.61 915.43A290 290 0 0 0 674.02 973.96Z" fill="#ffb878"/>
<text font-size="32.5" fill="#111"><textPath href="#p88" startOffset="50%" text-anchor="middle">15.17</textPath></text>
<path d="M114 773.6A874 874 0 0 1 172.63 606.05L224.24 630.24A817 817 0 0 0 169.43 786.87Z" fill="#ff5a52"/>
<line x1="113.31" y1="772.18" x2="100.67" y2="769.14" class="tk"/>
<text transform="translate(95.32 767.85) rotate(13.54)" y="9.31" text-anchor="end" class="tl">1</text>
<line x1="126.42" y1="723.85" x2="113.98" y2="720.09" class="tk"/>
<text transform="translate(108.71 718.49) rotate(16.82)" y="9.31" text-anchor="end" class="tl">10</text>
<line x1="142.07" y1="676.91" x2="129.86" y2="672.45" class="tk"/>
<text transform="translate(124.69 670.57) rotate(20.06)" y="9.31" text-anchor="end" class="tl">100</text>
<line x1="159.86" y1="632.06" x2="147.91" y2="626.94" class="tk"/>
<text transform="translate(142.86 624.77) rotate(23.22)" y="9.31" text-anchor="end" class="tl">1000</text>
<text font-size="32" fill="#111111"><textPath href="#p89" startOffset="50%" text-anchor="middle">GO:0019083</textPath></text>
<path d="M199 793.94A786.6 786.6 0 0 1 214.85 737.16L241.62 745.73A758.5 758.5 0 0 0 226.33 800.48Z" fill="#ffe087"/>
<text font-size="36" fill="#1a8ad4"><textPath href="#p90" startOffset="50%" text-anchor="middle">31</textPath></text>
<path d="M312.88 821.2A669.5 669.5 0 0 1 357.79 692.85L382.51 704.43A642.2 642.2 0 0 0 339.43 827.55Z" fill="#d2f0d6"/>
<text font-size="37" fill="#111"><textPath href="#p91" startOffset="50%" text-anchor="middle">16</textPath></text>
<path d="M369.78 834.81A611 611 0 0 1 410.76 717.68L701.42 853.92A290 290 0 0 0 681.96 909.51Z" fill="#e4e4e4"/>
<path d="M624.97 895.87A348.6 348.6 0 0 1 648.36 829.05" class="gl"/>
<path d="M567.98 882.24A407.2 407.2 0 0 1 595.3 804.17" class="gl"/>
<path d="M510.99 868.6A465.8 465.8 0 0 1 542.24 779.3" class="gl"/>
<path d="M454 854.96A524.4 524.4 0 0 1 489.18 754.43" class="gl"/>
<path d="M534.9 874.32A441.22 441.22 0 0 1 564.49 789.74L701.42 853.92A290 290 0 0 0 681.96 909.51Z" fill="#fe524c"/>
<path d="M624.97 895.87A348.6 348.6 0 0 1 648.36 829.05" class="gl2"/>
<path d="M567.98 882.24A407.2 407.2 0 0 1 595.3 804.17" class="gl2"/>
<text font-size="32.5" fill="#111"><textPath href="#p92" startOffset="50%" text-anchor="middle">51.61</textPath></text>
<path d="M180.57 589.56A874 874 0 0 1 275.01 439.26L319.94 474.33A817 817 0 0 0 231.66 614.83Z" fill="#ff5a52"/>
<line x1="180.21" y1="588.02" x2="168.57" y2="582.24" class="tk"/>
<text transform="translate(163.64 579.8) rotate(26.39)" y="9.31" text-anchor="end" class="tl">1</text>
<line x1="203.75" y1="543.81" x2="192.46" y2="537.38" class="tk"/>
<text transform="translate(187.68 534.66) rotate(29.67)" y="9.31" text-anchor="end" class="tl">10</text>
<line x1="229.45" y1="501.54" x2="218.54" y2="494.48" class="tk"/>
<text transform="translate(213.92 491.49) rotate(32.91)" y="9.31" text-anchor="end" class="tl">100</text>
<line x1="256.78" y1="461.77" x2="246.27" y2="454.12" class="tk"/>
<text transform="translate(241.82 450.88) rotate(36.07)" y="9.31" text-anchor="end" class="tl">1000</text>
<text font-size="32" fill="#111111"><textPath href="#p93" startOffset="50%" text-anchor="middle">GO:0008201</textPath></text>
<path d="M258.91 628.3A786.6 786.6 0 0 1 292.39 567.51L316.38 582.14A758.5 758.5 0 0 0 284.1 640.76Z" fill="#ffe087"/>
<text font-size="36" fill="#1a8ad4"><textPath href="#p94" startOffset="50%" text-anchor="middle">57</textPath></text>
<path d="M363.88 680.21A669.5 669.5 0 0 1 436.22 565.08L457.74 581.87A642.2 642.2 0 0 0 388.35 692.32Z" fill="#b4e8c4"/>
<text font-size="37" fill="#111"><textPath href="#p95" startOffset="50%" text-anchor="middle">23</textPath></text>
<path d="M416.31 706.15A611 611 0 0 1 482.34 601.07L735.39 798.57A290 290 0 0 0 704.05 848.44Z" fill="#e4e4e4"/>
<path d="M651.52 822.47A348.6 348.6 0 0 1 689.19 762.52" class="gl"/>
<path d="M599 796.49A407.2 407.2 0 0 1 643 726.46" class="gl"/>
<path d="M546.47 770.51A465.8 465.8 0 0 1 596.8 690.41" class="gl"/>
<path d="M493.94 744.54A524.4 524.4 0 0 1 550.61 654.35" class="gl"/>
<path d="M598.08 796.04A408.23 408.23 0 0 1 642.19 725.83L735.39 798.57A290 290 0 0 0 704.05 848.44Z" fill="#fe524c"/>
<path d="M651.52 822.47A348.6 348.6 0 0 1 689.19 762.52" class="gl2"/>
<path d="M599 796.49A407.2 407.2 0 0 1 643 726.46" class="gl2"/>
<text font-size="32.5" fill="#111"><textPath href="#p96" startOffset="50%" text-anchor="middle">40.35</textPath></text>
<path d="M286.42 424.94A874 874 0 0 1 411.94 299.42L447.95 343.61A817 817 0 0 0 330.61 460.95Z" fill="#ff5a52"/>
<line x1="286.42" y1="423.37" x2="276.35" y2="415.14" class="tk"/>
<text transform="translate(272.09 411.66) rotate(39.25)" y="9.31" text-anchor="end" class="tl">1</text>
<line x1="319.21" y1="385.5" x2="309.63" y2="376.72" class="tk"/>
<text transform="translate(305.57 373) rotate(42.53)" y="9.31" text-anchor="end" class="tl">10</text>
<line x1="353.67" y1="350.01" x2="344.6" y2="340.69" class="tk"/>
<text transform="translate(340.76 336.75) rotate(45.77)" y="9.31" text-anchor="end" class="tl">100</text>
<line x1="389.16" y1="317.32" x2="380.62" y2="307.52" class="tk"/>
<text transform="translate(377 303.37) rotate(48.93)" y="9.31" text-anchor="end" class="tl">1000</text>
<text font-size="32" fill="#111111"><textPath href="#p97" startOffset="50%" text-anchor="middle">GO:0045296</textPath></text>
<path d="M354.18 480.15A786.6 786.6 0 0 1 408.39 420.19L428.24 440.08A758.5 758.5 0 0 0 375.97 497.9Z" fill="#ff9850"/>
<text font-size="36" fill="#46aad7"><textPath href="#p98" startOffset="50%" text-anchor="middle">111</textPath></text>
<path d="M444.96 554.12A669.5 669.5 0 0 1 541.12 457.96L558.36 479.13A642.2 642.2 0 0 0 466.13 571.36Z" fill="#00c076"/>
<text font-size="37" fill="#111"><textPath href="#p99" startOffset="50%" text-anchor="middle">41</textPath></text>
<path d="M490.32 591.07A611 611 0 0 1 578.07 503.32L780.82 752.17A290 290 0 0 0 739.17 793.82Z" fill="#e4e4e4"/>
<path d="M693.74 756.81A348.6 348.6 0 0 1 743.81 706.74" class="gl"/>
<path d="M648.31 719.8A407.2 407.2 0 0 1 706.8 661.31" class="gl"/>
<path d="M602.88 682.78A465.8 465.8 0 0 1 669.78 615.88" class="gl"/>
<path d="M557.45 645.77A524.4 524.4 0 0 1 632.77 570.45" class="gl"/>
<path d="M655.27 725.46A398.23 398.23 0 0 1 712.46 668.27L780.82 752.17A290 290 0 0 0 739.17 793.82Z" fill="#fe524c"/>
<path d="M693.74 756.81A348.6 348.6 0 0 1 743.81 706.74" class="gl2"/>
<text font-size="32.5" fill="#111"><textPath href="#p100" startOffset="50%" text-anchor="middle">36.94</textPath></text>
<path d="M426.26 288.01A874 874 0 0 1 576.56 193.57L601.83 244.66A817 817 0 0 0 461.33 332.94Z" fill="#ff5a52"/>
<line x1="426.6" y1="286.47" x2="418.62" y2="276.21" class="tk"/>
<text transform="translate(415.24 271.87) rotate(52.11)" y="9.31" text-anchor="end" class="tl">1</text>
<line x1="466.99" y1="256.85" x2="459.61" y2="246.16" class="tk"/>
<text transform="translate(456.48 241.63) rotate(55.39)" y="9.31" text-anchor="end" class="tl">10</text>
<line x1="508.49" y1="229.92" x2="501.72" y2="218.82" class="tk"/>
<text transform="translate(498.86 214.12) rotate(58.63)" y="9.31" text-anchor="end" class="tl">100</text>
<line x1="550.36" y1="205.94" x2="544.22" y2="194.49" class="tk"/>
<text transform="translate(541.62 189.64) rotate(61.79)" y="9.31" text-anchor="end" class="tl">1000</text>
<text font-size="32" fill="#111111"><textPath href="#p101" startOffset="50%" text-anchor="middle">GO:0019899</textPath></text>
<path d="M480.03 356.91A786.6 786.6 0 0 1 553.12 306.24L567.8 330.2A758.5 758.5 0 0 0 497.32 379.06Z" fill="#ffe087"/>
<text font-size="36" fill="#1a8ad4"><textPath href="#p102" startOffset="50%" text-anchor="middle">178</textPath></text>
<path d="M552.08 449.22A669.5 669.5 0 0 1 667.21 376.88L679.32 401.35A642.2 642.2 0 0 0 568.87 470.74Z" fill="#00b969"/>
<text font-size="37" fill="#111"><textPath href="#p103" startOffset="50%" text-anchor="middle">51</textPath></text>
<path d="M588.07 495.34A611 611 0 0 1 693.15 429.31L835.44 717.05A290 290 0 0 0 785.57 748.39Z" fill="#e4e4e4"/>
<path d="M749.52 702.19A348.6 348.6 0 0 1 809.47 664.52" class="gl"/>
<path d="M713.46 656A407.2 407.2 0 0 1 783.49 612" class="gl"/>
<path d="M677.41 609.8A465.8 465.8 0 0 1 757.51 559.47" class="gl"/>
<path d="M641.35 563.61A524.4 524.4 0 0 1 731.54 506.94" class="gl"/>
<path d="M733.92 682.21A373.94 373.94 0 0 1 798.23 641.81L835.44 717.05A290 290 0 0 0 785.57 748.39Z" fill="#fe524c"/>
<path d="M749.52 702.19A348.6 348.6 0 0 1 809.47 664.52" class="gl2"/>
<text font-size="32.5" fill="#111"><textPath href="#p104" startOffset="50%" text-anchor="middle">28.65</textPath></text>
<path d="M593.05 185.63A874 874 0 0 1 760.6 127L773.87 182.43A817 817 0 0 0 617.24 237.24Z" fill="#ff5a52"/>
<line x1="593.73" y1="184.2" x2="588.23" y2="172.42" class="tk"/>
<text transform="translate(585.91 167.44) rotate(64.97)" y="9.31" text-anchor="end" class="tl">1</text>
<line x1="639.7" y1="164.32" x2="634.88" y2="152.24" class="tk"/>
<text transform="translate(632.84 147.13) rotate(68.25)" y="9.31" text-anchor="end" class="tl">10</text>
<line x1="686.15" y1="147.29" x2="682.02" y2="134.96" class="tk"/>
<text transform="translate(680.28 129.74) rotate(71.49)" y="9.31" text-anchor="end" class="tl">100</text>
<line x1="732.31" y1="133.23" x2="728.87" y2="120.7" class="tk"/>
<text transform="translate(727.41 115.39) rotate(74.65)" y="9.31" text-anchor="end" class="tl">1000</text>
<text font-size="32" fill="#111111"><textPath href="#p105" startOffset="50%" text-anchor="middle">GO:0042802</textPath></text>
<path d="M630.15 264.76A786.6 786.6 0 0 1 728.14 226.59L736.57 253.4A758.5 758.5 0 0 0 642.07 290.21Z" fill="#ffe087"/>
<text font-size="36" fill="#1a8ad4"><textPath href="#p106" startOffset="50%" text-anchor="middle">459</textPath></text>
<path d="M679.85 370.79A669.5 669.5 0 0 1 808.2 325.88L814.55 352.43A642.2 642.2 0 0 0 691.43 395.51Z" fill="#00873e"/>
<text font-size="37" fill="#111"><textPath href="#p107" startOffset="50%" text-anchor="middle">104</textPath></text>
<path d="M704.68 423.76A611 611 0 0 1 821.81 382.78L896.51 694.96A290 290 0 0 0 840.92 714.42Z" fill="#e4e4e4"/>
<path d="M816.05 661.36A348.6 348.6 0 0 1 882.87 637.97" class="gl"/>
<path d="M791.17 608.3A407.2 407.2 0 0 1 869.24 580.98" class="gl"/>
<path d="M766.3 555.24A465.8 465.8 0 0 1 855.6 523.99" class="gl"/>
<path d="M741.43 502.18A524.4 524.4 0 0 1 841.96 467" class="gl"/>
<path d="M812.74 654.3A356.39 356.39 0 0 1 881.06 630.39L896.51 694.96A290 290 0 0 0 840.92 714.42Z" fill="#fe524c"/>
<path d="M816.05 661.36A348.6 348.6 0 0 1 882.87 637.97" class="gl2"/>
<text font-size="32.5" fill="#111"><textPath href="#p108" startOffset="50%" text-anchor="middle">22.66</textPath></text>
<path d="M778.45 122.92A874 874 0 0 1 954.85 103.05L955.44 160.04A817 817 0 0 0 790.55 178.62Z" fill="#ff5a52"/>
<line x1="779.43" y1="121.69" x2="776.69" y2="108.98" class="tk"/>
<text transform="translate(775.53 103.6) rotate(77.82)" y="9.31" text-anchor="end" class="tl">1</text>
<line x1="828.67" y1="112.53" x2="826.66" y2="99.68" class="tk"/>
<text transform="translate(825.81 94.25) rotate(81.1)" y="9.31" text-anchor="end" class="tl">10</text>
<line x1="877.75" y1="106.26" x2="876.47" y2="93.32" class="tk"/>
<text transform="translate(875.92 87.85) rotate(84.34)" y="9.31" text-anchor="end" class="tl">100</text>
<line x1="925.88" y1="102.83" x2="925.31" y2="89.84" class="tk"/>
<text transform="translate(925.07 84.35) rotate(87.5)" y="9.31" text-anchor="end" class="tl">1000</text>
<text font-size="32" fill="#111111"><textPath href="#p109" startOffset="50%" text-anchor="middle">GO:0005515</textPath></text>
<path d="M797.01 208.33A786.6 786.6 0 0 1 935.91 190.9L936.92 218.98A758.5 758.5 0 0 0 802.97 235.79Z" fill="#ff4b4b"/>
<text font-size="36" fill="#a9cde8"><textPath href="#p110" startOffset="50%" text-anchor="middle">3511</textPath></text>
<path d="M821.87 322.76A669.5 669.5 0 0 1 956.99 307.54L957.28 334.84A642.2 642.2 0 0 0 827.66 349.44Z" fill="#004412"/>
<text font-size="37" fill="#111"><textPath href="#p111" startOffset="50%" text-anchor="middle">610</textPath></text>
<path d="M834.29 379.93A611 611 0 0 1 957.6 366.03L960.96 687.02A290 290 0 0 0 902.43 693.61Z" fill="#e4e4e4"/>
<path d="M889.99 636.35A348.6 348.6 0 0 1 960.35 628.42" class="gl"/>
<path d="M877.55 579.08A407.2 407.2 0 0 1 959.74 569.82" class="gl"/>
<path d="M865.11 521.82A465.8 465.8 0 0 1 959.12 511.23" class="gl"/>
<path d="M852.67 464.55A524.4 524.4 0 0 1 958.51 452.63" class="gl"/>
<path d="M891.63 643.88A340.89 340.89 0 0 1 960.43 636.12L960.96 687.02A290 290 0 0 0 902.43 693.61Z" fill="#fe524c"/>
<text font-size="32.5" fill="#111"><textPath href="#p112" startOffset="50%" text-anchor="middle">17.37</textPath></text>
<rect x="735.3" y="856.7" width="79.4" height="79.5" fill="#009e51"/>
<text x="837.5" y="912.2" class="lg">biological_process</text>
<rect x="735.3" y="941.9" width="79.4" height="79.5" fill="#ffb364"/>
<text x="837.5" y="997.4" class="lg">cellular_component</text>
<rect x="735.3" y="1027.1" width="79.4" height="79.5" fill="#fd352d"/>
<text x="837.5" y="1082.6" class="lg">molecular_function</text>
<text x="1950" y="771" class="rt">&#8722;log10(P.value)</text>
<circle cx="1997" cy="832" r="22.4" fill="#664ea8"/>
<text x="2054" y="845.5" class="rv">(0,1.3]</text>
<circle cx="1997" cy="896.9" r="22.4" fill="#009eb8"/>
<text x="2054" y="910.4" class="rv">(1.3,2]</text>
<circle cx="1997" cy="961.8" r="22.4" fill="#73d7a5"/>
<text x="2054" y="975.3" class="rv">(2,5]</text>
<circle cx="1997" cy="1026.7" r="22.4" fill="#ffe087"/>
<text x="2054" y="1040.2" class="rv">(5,10]</text>
<circle cx="1997" cy="1091.6" r="22.4" fill="#ff9850"/>
<text x="2054" y="1105.1" class="rv">(10,15]</text>
<circle cx="1997" cy="1156.5" r="22.4" fill="#ff4b4b"/>
<text x="2054" y="1170" class="rv">(15,20]</text>
<circle cx="1997" cy="1221.4" r="22.4" fill="#b8003e"/>
<text x="2054" y="1234.9" class="rv">&gt;20</text>
<text x="1071.2" y="2136.8" class="cap">(<tspan font-weight="bold">c</tspan>)</text>
</svg>
</body></html>
